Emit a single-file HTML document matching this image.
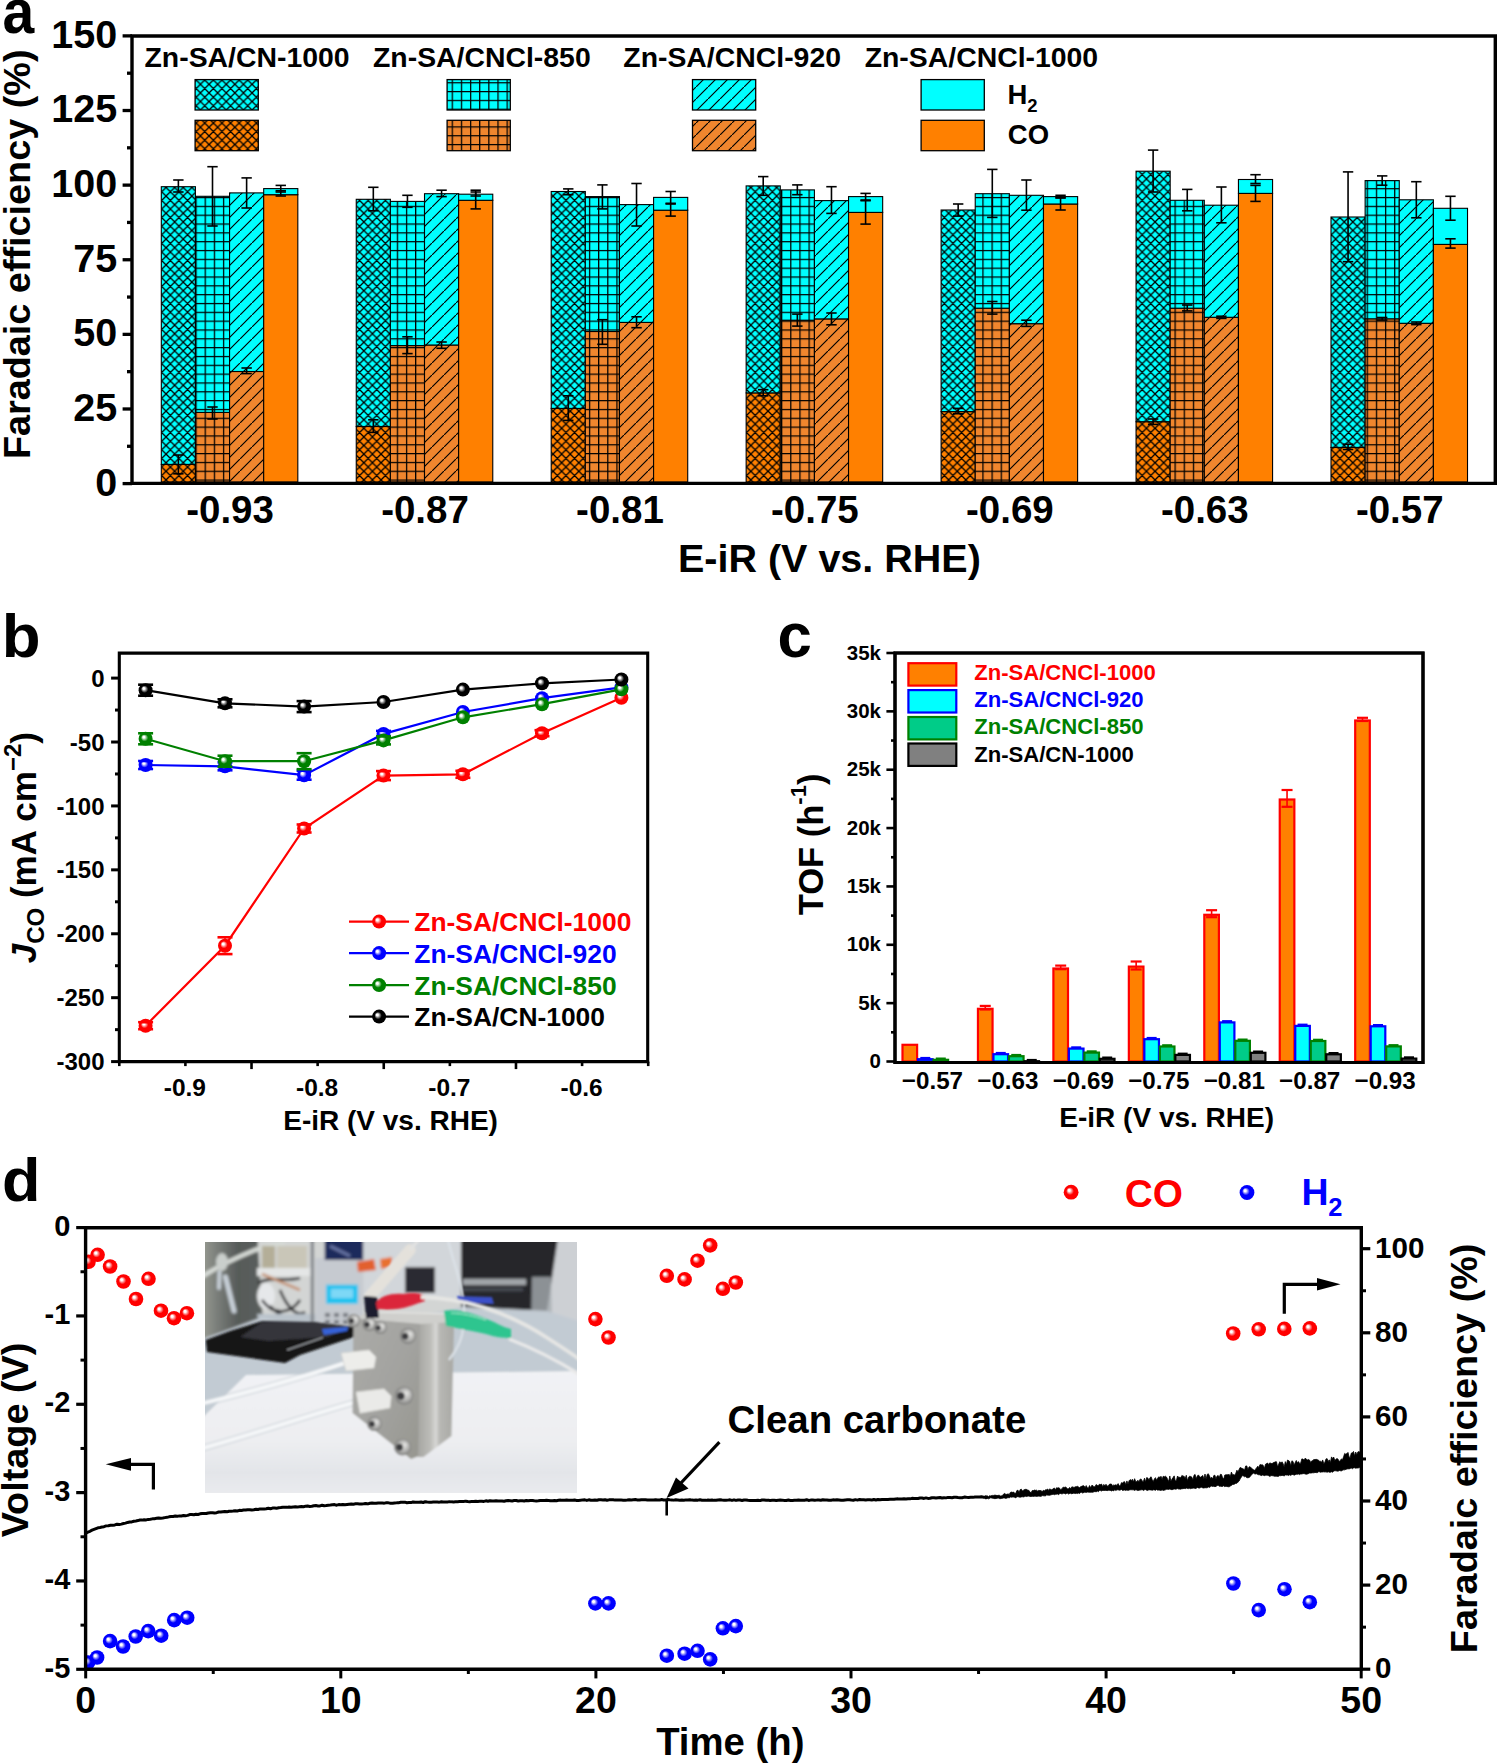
<!DOCTYPE html><html><head><meta charset="utf-8"><style>html,body{margin:0;padding:0;background:#fff;overflow:hidden;}svg{display:block;}</style></head><body>
<svg width="1498" height="1764" viewBox="0 0 1498 1764" font-family='"Liberation Sans", sans-serif'>
<rect x="0" y="0" width="1498" height="1764" fill="#fff"/>
<defs>
<pattern id="xc" patternUnits="userSpaceOnUse" x="2.65" y="6.9" width="8.6" height="8.6">
<rect width="8.6" height="8.6" fill="#00FFFF"/>
<path d="M0,0 L8.6,8.6 M8.6,0 L0,8.6 M-1,7.6 L1,9.6 M7.6,-1 L9.6,1" stroke="#000" stroke-width="1.3" fill="none"/>
</pattern>
<pattern id="xo" patternUnits="userSpaceOnUse" x="2.65" y="6.9" width="8.6" height="8.6">
<rect width="8.6" height="8.6" fill="#FF8000"/>
<path d="M0,0 L8.6,8.6 M8.6,0 L0,8.6 M-1,7.6 L1,9.6 M7.6,-1 L9.6,1" stroke="#000" stroke-width="1.3" fill="none"/>
</pattern>
<pattern id="gc" patternUnits="userSpaceOnUse" x="3.3" y="2.7" width="9.15" height="8.83">
<rect width="9.15" height="8.83" fill="#00FFFF"/>
<path d="M0.6,0 L0.6,8.83 M0,0.6 L9.15,0.6" stroke="#000" stroke-width="1.3" fill="none"/>
</pattern>
<pattern id="go" patternUnits="userSpaceOnUse" x="3.3" y="2.7" width="9.15" height="8.83">
<rect width="9.15" height="8.83" fill="#F0862E"/>
<path d="M0.6,0 L0.6,8.83 M0,0.6 L9.15,0.6" stroke="#000" stroke-width="1.3" fill="none"/>
</pattern>
<pattern id="dc" patternUnits="userSpaceOnUse" x="0" y="3" width="12" height="12">
<rect width="12" height="12" fill="#00FFFF"/>
<path d="M-1,13 L13,-1 M-2,1 L1,-2 M11,14 L14,11" stroke="#000" stroke-width="1.15" fill="none"/>
</pattern>
<pattern id="do" patternUnits="userSpaceOnUse" x="0" y="3" width="12" height="12">
<rect width="12" height="12" fill="#F0862E"/>
<path d="M-1,13 L13,-1 M-2,1 L1,-2 M11,14 L14,11" stroke="#000" stroke-width="1.15" fill="none"/>
</pattern>
<radialGradient id="sr" cx="0.5" cy="0.5" r="0.5" fx="0.35" fy="0.355">
<stop offset="0" stop-color="#FFFFFF"/><stop offset="0.14" stop-color="#FFFFFF"/><stop offset="0.52" stop-color="#FF0000"/><stop offset="1" stop-color="#FF0000"/>
</radialGradient>
<radialGradient id="sb" cx="0.5" cy="0.5" r="0.5" fx="0.35" fy="0.355">
<stop offset="0" stop-color="#FFFFFF"/><stop offset="0.14" stop-color="#FFFFFF"/><stop offset="0.52" stop-color="#0000FF"/><stop offset="1" stop-color="#0000FF"/>
</radialGradient>
<radialGradient id="sg" cx="0.5" cy="0.5" r="0.5" fx="0.35" fy="0.355">
<stop offset="0" stop-color="#FFFFFF"/><stop offset="0.14" stop-color="#FFFFFF"/><stop offset="0.52" stop-color="#008000"/><stop offset="1" stop-color="#008000"/>
</radialGradient>
<radialGradient id="sk" cx="0.5" cy="0.5" r="0.5" fx="0.35" fy="0.355">
<stop offset="0" stop-color="#FFFFFF"/><stop offset="0.14" stop-color="#FFFFFF"/><stop offset="0.52" stop-color="#000000"/><stop offset="1" stop-color="#000000"/>
</radialGradient>
<clipPath id="clipd"><rect x="87" y="1229" width="1273" height="439"/></clipPath>
<filter id="blur1" x="-5%" y="-5%" width="110%" height="110%"><feGaussianBlur stdDeviation="0.8"/></filter>
<filter id="blur2" x="-5%" y="-5%" width="110%" height="110%"><feGaussianBlur stdDeviation="1.6"/></filter>
<clipPath id="clipph"><rect x="205" y="1242" width="372" height="251"/></clipPath>
</defs>
<rect x="161.3" y="464.4" width="34.13" height="17.6" fill="url(#xo)" stroke="#000" stroke-width="1.1" />
<rect x="161.3" y="186.7" width="34.13" height="277.7" fill="url(#xc)" stroke="#000" stroke-width="1.1" />
<rect x="195.43" y="412.4" width="34.13" height="69.6" fill="url(#go)" stroke="#000" stroke-width="1.1" />
<rect x="195.43" y="196.3" width="34.13" height="216.1" fill="url(#gc)" stroke="#000" stroke-width="1.1" />
<rect x="229.56" y="371.5" width="34.13" height="110.5" fill="url(#do)" stroke="#000" stroke-width="1.1" />
<rect x="229.56" y="192.9" width="34.13" height="178.6" fill="url(#dc)" stroke="#000" stroke-width="1.1" />
<rect x="263.69" y="194.7" width="34.13" height="287.3" fill="#FF8000" stroke="#000" stroke-width="1.1" />
<rect x="263.69" y="188.6" width="34.13" height="6.1" fill="#00FFFF" stroke="#000" stroke-width="1.1" />
<rect x="356.25" y="426.5" width="34.13" height="55.5" fill="url(#xo)" stroke="#000" stroke-width="1.1" />
<rect x="356.25" y="199.3" width="34.13" height="227.2" fill="url(#xc)" stroke="#000" stroke-width="1.1" />
<rect x="390.38" y="345.6" width="34.13" height="136.4" fill="url(#go)" stroke="#000" stroke-width="1.1" />
<rect x="390.38" y="201.4" width="34.13" height="144.2" fill="url(#gc)" stroke="#000" stroke-width="1.1" />
<rect x="424.51" y="345" width="34.13" height="137" fill="url(#do)" stroke="#000" stroke-width="1.1" />
<rect x="424.51" y="193.7" width="34.13" height="151.3" fill="url(#dc)" stroke="#000" stroke-width="1.1" />
<rect x="458.64" y="200.3" width="34.13" height="281.7" fill="#FF8000" stroke="#000" stroke-width="1.1" />
<rect x="458.64" y="194.2" width="34.13" height="6.1" fill="#00FFFF" stroke="#000" stroke-width="1.1" />
<rect x="551.2" y="408.4" width="34.13" height="73.6" fill="url(#xo)" stroke="#000" stroke-width="1.1" />
<rect x="551.2" y="191.5" width="34.13" height="216.9" fill="url(#xc)" stroke="#000" stroke-width="1.1" />
<rect x="585.33" y="331.5" width="34.13" height="150.5" fill="url(#go)" stroke="#000" stroke-width="1.1" />
<rect x="585.33" y="196.6" width="34.13" height="134.9" fill="url(#gc)" stroke="#000" stroke-width="1.1" />
<rect x="619.46" y="322.4" width="34.13" height="159.6" fill="url(#do)" stroke="#000" stroke-width="1.1" />
<rect x="619.46" y="204.6" width="34.13" height="117.8" fill="url(#dc)" stroke="#000" stroke-width="1.1" />
<rect x="653.59" y="210.2" width="34.13" height="271.8" fill="#FF8000" stroke="#000" stroke-width="1.1" />
<rect x="653.59" y="197.4" width="34.13" height="12.8" fill="#00FFFF" stroke="#000" stroke-width="1.1" />
<rect x="746.15" y="392.9" width="34.13" height="89.1" fill="url(#xo)" stroke="#000" stroke-width="1.1" />
<rect x="746.15" y="185.9" width="34.13" height="207" fill="url(#xc)" stroke="#000" stroke-width="1.1" />
<rect x="780.28" y="320.2" width="34.13" height="161.8" fill="url(#go)" stroke="#000" stroke-width="1.1" />
<rect x="780.28" y="189.9" width="34.13" height="130.3" fill="url(#gc)" stroke="#000" stroke-width="1.1" />
<rect x="814.41" y="318.9" width="34.13" height="163.1" fill="url(#do)" stroke="#000" stroke-width="1.1" />
<rect x="814.41" y="200.6" width="34.13" height="118.3" fill="url(#dc)" stroke="#000" stroke-width="1.1" />
<rect x="848.54" y="212.4" width="34.13" height="269.6" fill="#FF8000" stroke="#000" stroke-width="1.1" />
<rect x="848.54" y="196.6" width="34.13" height="15.8" fill="#00FFFF" stroke="#000" stroke-width="1.1" />
<rect x="941.1" y="411.6" width="34.13" height="70.4" fill="url(#xo)" stroke="#000" stroke-width="1.1" />
<rect x="941.1" y="210" width="34.13" height="201.6" fill="url(#xc)" stroke="#000" stroke-width="1.1" />
<rect x="975.23" y="308.2" width="34.13" height="173.8" fill="url(#go)" stroke="#000" stroke-width="1.1" />
<rect x="975.23" y="193.7" width="34.13" height="114.5" fill="url(#gc)" stroke="#000" stroke-width="1.1" />
<rect x="1009.36" y="323.7" width="34.13" height="158.3" fill="url(#do)" stroke="#000" stroke-width="1.1" />
<rect x="1009.36" y="195.3" width="34.13" height="128.4" fill="url(#dc)" stroke="#000" stroke-width="1.1" />
<rect x="1043.49" y="204" width="34.13" height="278" fill="#FF8000" stroke="#000" stroke-width="1.1" />
<rect x="1043.49" y="196.6" width="34.13" height="7.4" fill="#00FFFF" stroke="#000" stroke-width="1.1" />
<rect x="1136.05" y="421.7" width="34.13" height="60.3" fill="url(#xo)" stroke="#000" stroke-width="1.1" />
<rect x="1136.05" y="171.2" width="34.13" height="250.5" fill="url(#xc)" stroke="#000" stroke-width="1.1" />
<rect x="1170.18" y="308.2" width="34.13" height="173.8" fill="url(#go)" stroke="#000" stroke-width="1.1" />
<rect x="1170.18" y="200.3" width="34.13" height="107.9" fill="url(#gc)" stroke="#000" stroke-width="1.1" />
<rect x="1204.31" y="317.3" width="34.13" height="164.7" fill="url(#do)" stroke="#000" stroke-width="1.1" />
<rect x="1204.31" y="205.2" width="34.13" height="112.1" fill="url(#dc)" stroke="#000" stroke-width="1.1" />
<rect x="1238.44" y="193.4" width="34.13" height="288.6" fill="#FF8000" stroke="#000" stroke-width="1.1" />
<rect x="1238.44" y="179.5" width="34.13" height="13.9" fill="#00FFFF" stroke="#000" stroke-width="1.1" />
<rect x="1331" y="447.4" width="34.13" height="34.6" fill="url(#xo)" stroke="#000" stroke-width="1.1" />
<rect x="1331" y="217" width="34.13" height="230.4" fill="url(#xc)" stroke="#000" stroke-width="1.1" />
<rect x="1365.13" y="318.8" width="34.13" height="163.2" fill="url(#go)" stroke="#000" stroke-width="1.1" />
<rect x="1365.13" y="180.6" width="34.13" height="138.2" fill="url(#gc)" stroke="#000" stroke-width="1.1" />
<rect x="1399.26" y="323.3" width="34.13" height="158.7" fill="url(#do)" stroke="#000" stroke-width="1.1" />
<rect x="1399.26" y="199.8" width="34.13" height="123.5" fill="url(#dc)" stroke="#000" stroke-width="1.1" />
<rect x="1433.39" y="244.4" width="34.13" height="237.6" fill="#FF8000" stroke="#000" stroke-width="1.1" />
<rect x="1433.39" y="208.3" width="34.13" height="36.1" fill="#00FFFF" stroke="#000" stroke-width="1.1" />
<line x1="178.37" y1="180" x2="178.37" y2="192" stroke="#000" stroke-width="1.6" />
<line x1="173.17" y1="180" x2="183.56" y2="180" stroke="#000" stroke-width="1.6" />
<line x1="173.17" y1="192" x2="183.56" y2="192" stroke="#000" stroke-width="1.6" />
<line x1="178.37" y1="455" x2="178.37" y2="473.8" stroke="#000" stroke-width="1.6" />
<line x1="173.17" y1="455" x2="183.56" y2="455" stroke="#000" stroke-width="1.6" />
<line x1="173.17" y1="473.8" x2="183.56" y2="473.8" stroke="#000" stroke-width="1.6" />
<line x1="212.5" y1="166.7" x2="212.5" y2="226" stroke="#000" stroke-width="1.6" />
<line x1="207.3" y1="166.7" x2="217.69" y2="166.7" stroke="#000" stroke-width="1.6" />
<line x1="207.3" y1="226" x2="217.69" y2="226" stroke="#000" stroke-width="1.6" />
<line x1="212.5" y1="407" x2="212.5" y2="419" stroke="#000" stroke-width="1.6" />
<line x1="207.3" y1="407" x2="217.69" y2="407" stroke="#000" stroke-width="1.6" />
<line x1="207.3" y1="419" x2="217.69" y2="419" stroke="#000" stroke-width="1.6" />
<line x1="246.62" y1="177.9" x2="246.62" y2="208" stroke="#000" stroke-width="1.6" />
<line x1="241.43" y1="177.9" x2="251.82" y2="177.9" stroke="#000" stroke-width="1.6" />
<line x1="241.43" y1="208" x2="251.82" y2="208" stroke="#000" stroke-width="1.6" />
<line x1="246.62" y1="368" x2="246.62" y2="373.6" stroke="#000" stroke-width="1.6" />
<line x1="241.43" y1="368" x2="251.82" y2="368" stroke="#000" stroke-width="1.6" />
<line x1="241.43" y1="373.6" x2="251.82" y2="373.6" stroke="#000" stroke-width="1.6" />
<line x1="280.76" y1="185.4" x2="280.76" y2="192" stroke="#000" stroke-width="1.6" />
<line x1="275.56" y1="185.4" x2="285.96" y2="185.4" stroke="#000" stroke-width="1.6" />
<line x1="275.56" y1="192" x2="285.96" y2="192" stroke="#000" stroke-width="1.6" />
<line x1="280.76" y1="190.7" x2="280.76" y2="196" stroke="#000" stroke-width="1.6" />
<line x1="275.56" y1="190.7" x2="285.96" y2="190.7" stroke="#000" stroke-width="1.6" />
<line x1="275.56" y1="196" x2="285.96" y2="196" stroke="#000" stroke-width="1.6" />
<line x1="373.31" y1="187.3" x2="373.31" y2="210.8" stroke="#000" stroke-width="1.6" />
<line x1="368.12" y1="187.3" x2="378.51" y2="187.3" stroke="#000" stroke-width="1.6" />
<line x1="368.12" y1="210.8" x2="378.51" y2="210.8" stroke="#000" stroke-width="1.6" />
<line x1="373.31" y1="419.8" x2="373.31" y2="432.4" stroke="#000" stroke-width="1.6" />
<line x1="368.12" y1="419.8" x2="378.51" y2="419.8" stroke="#000" stroke-width="1.6" />
<line x1="368.12" y1="432.4" x2="378.51" y2="432.4" stroke="#000" stroke-width="1.6" />
<line x1="407.44" y1="195.3" x2="407.44" y2="207.3" stroke="#000" stroke-width="1.6" />
<line x1="402.25" y1="195.3" x2="412.64" y2="195.3" stroke="#000" stroke-width="1.6" />
<line x1="402.25" y1="207.3" x2="412.64" y2="207.3" stroke="#000" stroke-width="1.6" />
<line x1="407.44" y1="336.8" x2="407.44" y2="353.6" stroke="#000" stroke-width="1.6" />
<line x1="402.25" y1="336.8" x2="412.64" y2="336.8" stroke="#000" stroke-width="1.6" />
<line x1="402.25" y1="353.6" x2="412.64" y2="353.6" stroke="#000" stroke-width="1.6" />
<line x1="441.57" y1="190.2" x2="441.57" y2="196.6" stroke="#000" stroke-width="1.6" />
<line x1="436.38" y1="190.2" x2="446.77" y2="190.2" stroke="#000" stroke-width="1.6" />
<line x1="436.38" y1="196.6" x2="446.77" y2="196.6" stroke="#000" stroke-width="1.6" />
<line x1="441.57" y1="342" x2="441.57" y2="348.3" stroke="#000" stroke-width="1.6" />
<line x1="436.38" y1="342" x2="446.77" y2="342" stroke="#000" stroke-width="1.6" />
<line x1="436.38" y1="348.3" x2="446.77" y2="348.3" stroke="#000" stroke-width="1.6" />
<line x1="475.7" y1="190.2" x2="475.7" y2="196" stroke="#000" stroke-width="1.6" />
<line x1="470.5" y1="190.2" x2="480.9" y2="190.2" stroke="#000" stroke-width="1.6" />
<line x1="470.5" y1="196" x2="480.9" y2="196" stroke="#000" stroke-width="1.6" />
<line x1="475.7" y1="192" x2="475.7" y2="208.9" stroke="#000" stroke-width="1.6" />
<line x1="470.5" y1="192" x2="480.9" y2="192" stroke="#000" stroke-width="1.6" />
<line x1="470.5" y1="208.9" x2="480.9" y2="208.9" stroke="#000" stroke-width="1.6" />
<line x1="568.27" y1="188.9" x2="568.27" y2="194.7" stroke="#000" stroke-width="1.6" />
<line x1="563.07" y1="188.9" x2="573.47" y2="188.9" stroke="#000" stroke-width="1.6" />
<line x1="563.07" y1="194.7" x2="573.47" y2="194.7" stroke="#000" stroke-width="1.6" />
<line x1="568.27" y1="395.8" x2="568.27" y2="420.4" stroke="#000" stroke-width="1.6" />
<line x1="563.07" y1="395.8" x2="573.47" y2="395.8" stroke="#000" stroke-width="1.6" />
<line x1="563.07" y1="420.4" x2="573.47" y2="420.4" stroke="#000" stroke-width="1.6" />
<line x1="602.4" y1="184.9" x2="602.4" y2="208.9" stroke="#000" stroke-width="1.6" />
<line x1="597.2" y1="184.9" x2="607.6" y2="184.9" stroke="#000" stroke-width="1.6" />
<line x1="597.2" y1="208.9" x2="607.6" y2="208.9" stroke="#000" stroke-width="1.6" />
<line x1="602.4" y1="319.7" x2="602.4" y2="344.3" stroke="#000" stroke-width="1.6" />
<line x1="597.2" y1="319.7" x2="607.6" y2="319.7" stroke="#000" stroke-width="1.6" />
<line x1="597.2" y1="344.3" x2="607.6" y2="344.3" stroke="#000" stroke-width="1.6" />
<line x1="636.53" y1="183.5" x2="636.53" y2="226" stroke="#000" stroke-width="1.6" />
<line x1="631.33" y1="183.5" x2="641.73" y2="183.5" stroke="#000" stroke-width="1.6" />
<line x1="631.33" y1="226" x2="641.73" y2="226" stroke="#000" stroke-width="1.6" />
<line x1="636.53" y1="316.8" x2="636.53" y2="327.7" stroke="#000" stroke-width="1.6" />
<line x1="631.33" y1="316.8" x2="641.73" y2="316.8" stroke="#000" stroke-width="1.6" />
<line x1="631.33" y1="327.7" x2="641.73" y2="327.7" stroke="#000" stroke-width="1.6" />
<line x1="670.66" y1="191.5" x2="670.66" y2="203.3" stroke="#000" stroke-width="1.6" />
<line x1="665.46" y1="191.5" x2="675.86" y2="191.5" stroke="#000" stroke-width="1.6" />
<line x1="665.46" y1="203.3" x2="675.86" y2="203.3" stroke="#000" stroke-width="1.6" />
<line x1="670.66" y1="204" x2="670.66" y2="216.1" stroke="#000" stroke-width="1.6" />
<line x1="665.46" y1="204" x2="675.86" y2="204" stroke="#000" stroke-width="1.6" />
<line x1="665.46" y1="216.1" x2="675.86" y2="216.1" stroke="#000" stroke-width="1.6" />
<line x1="763.21" y1="176.6" x2="763.21" y2="195.3" stroke="#000" stroke-width="1.6" />
<line x1="758.01" y1="176.6" x2="768.41" y2="176.6" stroke="#000" stroke-width="1.6" />
<line x1="758.01" y1="195.3" x2="768.41" y2="195.3" stroke="#000" stroke-width="1.6" />
<line x1="763.21" y1="389.7" x2="763.21" y2="395.8" stroke="#000" stroke-width="1.6" />
<line x1="758.01" y1="389.7" x2="768.41" y2="389.7" stroke="#000" stroke-width="1.6" />
<line x1="758.01" y1="395.8" x2="768.41" y2="395.8" stroke="#000" stroke-width="1.6" />
<line x1="797.34" y1="184.9" x2="797.34" y2="194.7" stroke="#000" stroke-width="1.6" />
<line x1="792.14" y1="184.9" x2="802.54" y2="184.9" stroke="#000" stroke-width="1.6" />
<line x1="792.14" y1="194.7" x2="802.54" y2="194.7" stroke="#000" stroke-width="1.6" />
<line x1="797.34" y1="314.1" x2="797.34" y2="326.1" stroke="#000" stroke-width="1.6" />
<line x1="792.14" y1="314.1" x2="802.54" y2="314.1" stroke="#000" stroke-width="1.6" />
<line x1="792.14" y1="326.1" x2="802.54" y2="326.1" stroke="#000" stroke-width="1.6" />
<line x1="831.47" y1="186.7" x2="831.47" y2="213.4" stroke="#000" stroke-width="1.6" />
<line x1="826.27" y1="186.7" x2="836.67" y2="186.7" stroke="#000" stroke-width="1.6" />
<line x1="826.27" y1="213.4" x2="836.67" y2="213.4" stroke="#000" stroke-width="1.6" />
<line x1="831.47" y1="313" x2="831.47" y2="324.8" stroke="#000" stroke-width="1.6" />
<line x1="826.27" y1="313" x2="836.67" y2="313" stroke="#000" stroke-width="1.6" />
<line x1="826.27" y1="324.8" x2="836.67" y2="324.8" stroke="#000" stroke-width="1.6" />
<line x1="865.6" y1="193.4" x2="865.6" y2="200" stroke="#000" stroke-width="1.6" />
<line x1="860.4" y1="193.4" x2="870.8" y2="193.4" stroke="#000" stroke-width="1.6" />
<line x1="860.4" y1="200" x2="870.8" y2="200" stroke="#000" stroke-width="1.6" />
<line x1="865.6" y1="200.7" x2="865.6" y2="224.1" stroke="#000" stroke-width="1.6" />
<line x1="860.4" y1="200.7" x2="870.8" y2="200.7" stroke="#000" stroke-width="1.6" />
<line x1="860.4" y1="224.1" x2="870.8" y2="224.1" stroke="#000" stroke-width="1.6" />
<line x1="958.16" y1="204" x2="958.16" y2="216.1" stroke="#000" stroke-width="1.6" />
<line x1="952.96" y1="204" x2="963.37" y2="204" stroke="#000" stroke-width="1.6" />
<line x1="952.96" y1="216.1" x2="963.37" y2="216.1" stroke="#000" stroke-width="1.6" />
<line x1="958.16" y1="408.4" x2="958.16" y2="413.7" stroke="#000" stroke-width="1.6" />
<line x1="952.96" y1="408.4" x2="963.37" y2="408.4" stroke="#000" stroke-width="1.6" />
<line x1="952.96" y1="413.7" x2="963.37" y2="413.7" stroke="#000" stroke-width="1.6" />
<line x1="992.29" y1="169.4" x2="992.29" y2="217.4" stroke="#000" stroke-width="1.6" />
<line x1="987.09" y1="169.4" x2="997.5" y2="169.4" stroke="#000" stroke-width="1.6" />
<line x1="987.09" y1="217.4" x2="997.5" y2="217.4" stroke="#000" stroke-width="1.6" />
<line x1="992.29" y1="301.5" x2="992.29" y2="314.1" stroke="#000" stroke-width="1.6" />
<line x1="987.09" y1="301.5" x2="997.5" y2="301.5" stroke="#000" stroke-width="1.6" />
<line x1="987.09" y1="314.1" x2="997.5" y2="314.1" stroke="#000" stroke-width="1.6" />
<line x1="1026.42" y1="180" x2="1026.42" y2="210.2" stroke="#000" stroke-width="1.6" />
<line x1="1021.22" y1="180" x2="1031.62" y2="180" stroke="#000" stroke-width="1.6" />
<line x1="1021.22" y1="210.2" x2="1031.62" y2="210.2" stroke="#000" stroke-width="1.6" />
<line x1="1026.42" y1="320.2" x2="1026.42" y2="326.4" stroke="#000" stroke-width="1.6" />
<line x1="1021.22" y1="320.2" x2="1031.62" y2="320.2" stroke="#000" stroke-width="1.6" />
<line x1="1021.22" y1="326.4" x2="1031.62" y2="326.4" stroke="#000" stroke-width="1.6" />
<line x1="1060.56" y1="195.3" x2="1060.56" y2="197.6" stroke="#000" stroke-width="1.6" />
<line x1="1055.36" y1="195.3" x2="1065.76" y2="195.3" stroke="#000" stroke-width="1.6" />
<line x1="1055.36" y1="197.6" x2="1065.76" y2="197.6" stroke="#000" stroke-width="1.6" />
<line x1="1060.56" y1="198" x2="1060.56" y2="210" stroke="#000" stroke-width="1.6" />
<line x1="1055.36" y1="198" x2="1065.76" y2="198" stroke="#000" stroke-width="1.6" />
<line x1="1055.36" y1="210" x2="1065.76" y2="210" stroke="#000" stroke-width="1.6" />
<line x1="1153.12" y1="150.1" x2="1153.12" y2="192" stroke="#000" stroke-width="1.6" />
<line x1="1147.91" y1="150.1" x2="1158.32" y2="150.1" stroke="#000" stroke-width="1.6" />
<line x1="1147.91" y1="192" x2="1158.32" y2="192" stroke="#000" stroke-width="1.6" />
<line x1="1153.12" y1="419" x2="1153.12" y2="424.4" stroke="#000" stroke-width="1.6" />
<line x1="1147.91" y1="419" x2="1158.32" y2="419" stroke="#000" stroke-width="1.6" />
<line x1="1147.91" y1="424.4" x2="1158.32" y2="424.4" stroke="#000" stroke-width="1.6" />
<line x1="1187.25" y1="189.4" x2="1187.25" y2="210.8" stroke="#000" stroke-width="1.6" />
<line x1="1182.05" y1="189.4" x2="1192.45" y2="189.4" stroke="#000" stroke-width="1.6" />
<line x1="1182.05" y1="210.8" x2="1192.45" y2="210.8" stroke="#000" stroke-width="1.6" />
<line x1="1187.25" y1="305" x2="1187.25" y2="310.9" stroke="#000" stroke-width="1.6" />
<line x1="1182.05" y1="305" x2="1192.45" y2="305" stroke="#000" stroke-width="1.6" />
<line x1="1182.05" y1="310.9" x2="1192.45" y2="310.9" stroke="#000" stroke-width="1.6" />
<line x1="1221.38" y1="187" x2="1221.38" y2="222.8" stroke="#000" stroke-width="1.6" />
<line x1="1216.17" y1="187" x2="1226.58" y2="187" stroke="#000" stroke-width="1.6" />
<line x1="1216.17" y1="222.8" x2="1226.58" y2="222.8" stroke="#000" stroke-width="1.6" />
<line x1="1221.38" y1="316.2" x2="1221.38" y2="318.4" stroke="#000" stroke-width="1.6" />
<line x1="1216.17" y1="316.2" x2="1226.58" y2="316.2" stroke="#000" stroke-width="1.6" />
<line x1="1216.17" y1="318.4" x2="1226.58" y2="318.4" stroke="#000" stroke-width="1.6" />
<line x1="1255.51" y1="174.7" x2="1255.51" y2="183.5" stroke="#000" stroke-width="1.6" />
<line x1="1250.31" y1="174.7" x2="1260.71" y2="174.7" stroke="#000" stroke-width="1.6" />
<line x1="1250.31" y1="183.5" x2="1260.71" y2="183.5" stroke="#000" stroke-width="1.6" />
<line x1="1255.51" y1="185.4" x2="1255.51" y2="201.4" stroke="#000" stroke-width="1.6" />
<line x1="1250.31" y1="185.4" x2="1260.71" y2="185.4" stroke="#000" stroke-width="1.6" />
<line x1="1250.31" y1="201.4" x2="1260.71" y2="201.4" stroke="#000" stroke-width="1.6" />
<line x1="1348.06" y1="171.9" x2="1348.06" y2="261.7" stroke="#000" stroke-width="1.6" />
<line x1="1342.86" y1="171.9" x2="1353.26" y2="171.9" stroke="#000" stroke-width="1.6" />
<line x1="1342.86" y1="261.7" x2="1353.26" y2="261.7" stroke="#000" stroke-width="1.6" />
<line x1="1348.06" y1="444.2" x2="1348.06" y2="449.5" stroke="#000" stroke-width="1.6" />
<line x1="1342.86" y1="444.2" x2="1353.26" y2="444.2" stroke="#000" stroke-width="1.6" />
<line x1="1342.86" y1="449.5" x2="1353.26" y2="449.5" stroke="#000" stroke-width="1.6" />
<line x1="1382.19" y1="175.9" x2="1382.19" y2="185.2" stroke="#000" stroke-width="1.6" />
<line x1="1376.99" y1="175.9" x2="1387.39" y2="175.9" stroke="#000" stroke-width="1.6" />
<line x1="1376.99" y1="185.2" x2="1387.39" y2="185.2" stroke="#000" stroke-width="1.6" />
<line x1="1382.19" y1="317.5" x2="1382.19" y2="320.1" stroke="#000" stroke-width="1.6" />
<line x1="1376.99" y1="317.5" x2="1387.39" y2="317.5" stroke="#000" stroke-width="1.6" />
<line x1="1376.99" y1="320.1" x2="1387.39" y2="320.1" stroke="#000" stroke-width="1.6" />
<line x1="1416.32" y1="181.7" x2="1416.32" y2="217.8" stroke="#000" stroke-width="1.6" />
<line x1="1411.12" y1="181.7" x2="1421.52" y2="181.7" stroke="#000" stroke-width="1.6" />
<line x1="1411.12" y1="217.8" x2="1421.52" y2="217.8" stroke="#000" stroke-width="1.6" />
<line x1="1416.32" y1="322" x2="1416.32" y2="324.6" stroke="#000" stroke-width="1.6" />
<line x1="1411.12" y1="322" x2="1421.52" y2="322" stroke="#000" stroke-width="1.6" />
<line x1="1411.12" y1="324.6" x2="1421.52" y2="324.6" stroke="#000" stroke-width="1.6" />
<line x1="1450.45" y1="196.3" x2="1450.45" y2="220.2" stroke="#000" stroke-width="1.6" />
<line x1="1445.25" y1="196.3" x2="1455.65" y2="196.3" stroke="#000" stroke-width="1.6" />
<line x1="1445.25" y1="220.2" x2="1455.65" y2="220.2" stroke="#000" stroke-width="1.6" />
<line x1="1450.45" y1="238.8" x2="1450.45" y2="248.1" stroke="#000" stroke-width="1.6" />
<line x1="1445.25" y1="238.8" x2="1455.65" y2="238.8" stroke="#000" stroke-width="1.6" />
<line x1="1445.25" y1="248.1" x2="1455.65" y2="248.1" stroke="#000" stroke-width="1.6" />
<path d="M132,36 L1495.3,36 L1495.3,483.4 L132,483.4 Z" fill="none" stroke="#000" stroke-width="3.4"/>
<line x1="122.6" y1="483.6" x2="132" y2="483.6" stroke="#000" stroke-width="3.3" />
<text x="117.2" y="495.5" font-size="39.5" text-anchor="end" fill="#000" font-weight="bold" >0</text>
<line x1="127" y1="446.29" x2="132" y2="446.29" stroke="#000" stroke-width="3.3" />
<line x1="122.6" y1="408.98" x2="132" y2="408.98" stroke="#000" stroke-width="3.3" />
<text x="117.2" y="420.88" font-size="39.5" text-anchor="end" fill="#000" font-weight="bold" >25</text>
<line x1="127" y1="371.67" x2="132" y2="371.67" stroke="#000" stroke-width="3.3" />
<line x1="122.6" y1="334.37" x2="132" y2="334.37" stroke="#000" stroke-width="3.3" />
<text x="117.2" y="346.26" font-size="39.5" text-anchor="end" fill="#000" font-weight="bold" >50</text>
<line x1="127" y1="297.06" x2="132" y2="297.06" stroke="#000" stroke-width="3.3" />
<line x1="122.6" y1="259.75" x2="132" y2="259.75" stroke="#000" stroke-width="3.3" />
<text x="117.2" y="271.65" font-size="39.5" text-anchor="end" fill="#000" font-weight="bold" >75</text>
<line x1="127" y1="222.44" x2="132" y2="222.44" stroke="#000" stroke-width="3.3" />
<line x1="122.6" y1="185.13" x2="132" y2="185.13" stroke="#000" stroke-width="3.3" />
<text x="117.2" y="197.03" font-size="39.5" text-anchor="end" fill="#000" font-weight="bold" >100</text>
<line x1="127" y1="147.82" x2="132" y2="147.82" stroke="#000" stroke-width="3.3" />
<line x1="122.6" y1="110.51" x2="132" y2="110.51" stroke="#000" stroke-width="3.3" />
<text x="117.2" y="122.41" font-size="39.5" text-anchor="end" fill="#000" font-weight="bold" >125</text>
<line x1="127" y1="73.2" x2="132" y2="73.2" stroke="#000" stroke-width="3.3" />
<line x1="122.6" y1="35.89" x2="132" y2="35.89" stroke="#000" stroke-width="3.3" />
<text x="117.2" y="47.79" font-size="39.5" text-anchor="end" fill="#000" font-weight="bold" >150</text>
<text x="230.06" y="523" font-size="38.5" text-anchor="middle" fill="#000" font-weight="bold" >-0.93</text>
<text x="425.01" y="523" font-size="38.5" text-anchor="middle" fill="#000" font-weight="bold" >-0.87</text>
<text x="619.96" y="523" font-size="38.5" text-anchor="middle" fill="#000" font-weight="bold" >-0.81</text>
<text x="814.91" y="523" font-size="38.5" text-anchor="middle" fill="#000" font-weight="bold" >-0.75</text>
<text x="1009.86" y="523" font-size="38.5" text-anchor="middle" fill="#000" font-weight="bold" >-0.69</text>
<text x="1204.81" y="523" font-size="38.5" text-anchor="middle" fill="#000" font-weight="bold" >-0.63</text>
<text x="1399.76" y="523" font-size="38.5" text-anchor="middle" fill="#000" font-weight="bold" >-0.57</text>
<text x="829.4" y="572" font-size="39.5" text-anchor="middle" fill="#000" font-weight="bold" >E-iR (V vs. RHE)</text>
<text transform="translate(29.9,254.3) rotate(-90)" font-size="37.8" font-weight="bold" text-anchor="middle">Faradaic efficiency (%)</text>
<text transform="translate(2.6,33.3) scale(0.95,1.06)" font-size="60" font-weight="bold">a</text>
<text x="144.5" y="66.9" font-size="28.4" text-anchor="start" fill="#000" font-weight="bold" >Zn-SA/CN-1000</text>
<rect x="195.1" y="79.6" width="63.2" height="30.4" fill="url(#xc)" stroke="#000" stroke-width="1.3" />
<rect x="195.1" y="120.3" width="63.2" height="30.4" fill="url(#xo)" stroke="#000" stroke-width="1.3" />
<text x="373" y="66.9" font-size="28.4" text-anchor="start" fill="#000" font-weight="bold" >Zn-SA/CNCl-850</text>
<rect x="447.1" y="79.6" width="63.2" height="30.4" fill="url(#gc)" stroke="#000" stroke-width="1.3" />
<rect x="447.1" y="120.3" width="63.2" height="30.4" fill="url(#go)" stroke="#000" stroke-width="1.3" />
<text x="623.3" y="66.9" font-size="28.4" text-anchor="start" fill="#000" font-weight="bold" >Zn-SA/CNCl-920</text>
<rect x="692.5" y="79.6" width="63.2" height="30.4" fill="url(#dc)" stroke="#000" stroke-width="1.3" />
<rect x="692.5" y="120.3" width="63.2" height="30.4" fill="url(#do)" stroke="#000" stroke-width="1.3" />
<text x="864.7" y="66.9" font-size="28.4" text-anchor="start" fill="#000" font-weight="bold" >Zn-SA/CNCl-1000</text>
<rect x="921.1" y="79.6" width="63.2" height="30.4" fill="#00FFFF" stroke="#000" stroke-width="1.3" />
<rect x="921.1" y="120.3" width="63.2" height="30.4" fill="#FF8000" stroke="#000" stroke-width="1.3" />
<text x="1007.5" y="104.1" font-size="27.5" text-anchor="start" fill="#000" font-weight="bold" >H</text>
<text x="1027.3" y="111.6" font-size="18.5" text-anchor="start" fill="#000" font-weight="bold" >2</text>
<text x="1007.8" y="144.2" font-size="27.5" text-anchor="start" fill="#000" font-weight="bold" >CO</text>
<path d="M119.3,653.1 L647.7,653.1 L647.7,1061.6 L119.3,1061.6 Z" fill="none" stroke="#000" stroke-width="3.1"/>
<line x1="111.1" y1="678.1" x2="119.3" y2="678.1" stroke="#000" stroke-width="3" />
<text x="104.5" y="686.7" font-size="24" text-anchor="end" fill="#000" font-weight="bold" >0</text>
<line x1="115" y1="710.06" x2="119.3" y2="710.06" stroke="#000" stroke-width="3" />
<line x1="111.1" y1="742.02" x2="119.3" y2="742.02" stroke="#000" stroke-width="3" />
<text x="104.5" y="750.62" font-size="24" text-anchor="end" fill="#000" font-weight="bold" >-50</text>
<line x1="115" y1="773.98" x2="119.3" y2="773.98" stroke="#000" stroke-width="3" />
<line x1="111.1" y1="805.93" x2="119.3" y2="805.93" stroke="#000" stroke-width="3" />
<text x="104.5" y="814.53" font-size="24" text-anchor="end" fill="#000" font-weight="bold" >-100</text>
<line x1="115" y1="837.89" x2="119.3" y2="837.89" stroke="#000" stroke-width="3" />
<line x1="111.1" y1="869.85" x2="119.3" y2="869.85" stroke="#000" stroke-width="3" />
<text x="104.5" y="878.45" font-size="24" text-anchor="end" fill="#000" font-weight="bold" >-150</text>
<line x1="115" y1="901.81" x2="119.3" y2="901.81" stroke="#000" stroke-width="3" />
<line x1="111.1" y1="933.77" x2="119.3" y2="933.77" stroke="#000" stroke-width="3" />
<text x="104.5" y="942.37" font-size="24" text-anchor="end" fill="#000" font-weight="bold" >-200</text>
<line x1="115" y1="965.72" x2="119.3" y2="965.72" stroke="#000" stroke-width="3" />
<line x1="111.1" y1="997.68" x2="119.3" y2="997.68" stroke="#000" stroke-width="3" />
<text x="104.5" y="1006.28" font-size="24" text-anchor="end" fill="#000" font-weight="bold" >-250</text>
<line x1="115" y1="1029.64" x2="119.3" y2="1029.64" stroke="#000" stroke-width="3" />
<line x1="111.1" y1="1061.6" x2="119.3" y2="1061.6" stroke="#000" stroke-width="3" />
<text x="104.5" y="1070.2" font-size="24" text-anchor="end" fill="#000" font-weight="bold" >-300</text>
<line x1="119.29" y1="1061.6" x2="119.29" y2="1066.1" stroke="#000" stroke-width="2.6" />
<line x1="185.4" y1="1061.6" x2="185.4" y2="1066.1" stroke="#000" stroke-width="2.6" />
<line x1="251.52" y1="1061.6" x2="251.52" y2="1069.1" stroke="#000" stroke-width="2.6" />
<line x1="317.63" y1="1061.6" x2="317.63" y2="1066.1" stroke="#000" stroke-width="2.6" />
<line x1="383.75" y1="1061.6" x2="383.75" y2="1069.1" stroke="#000" stroke-width="2.6" />
<line x1="449.86" y1="1061.6" x2="449.86" y2="1066.1" stroke="#000" stroke-width="2.6" />
<line x1="515.98" y1="1061.6" x2="515.98" y2="1069.1" stroke="#000" stroke-width="2.6" />
<line x1="582.09" y1="1061.6" x2="582.09" y2="1066.1" stroke="#000" stroke-width="2.6" />
<line x1="648.21" y1="1061.6" x2="648.21" y2="1066.1" stroke="#000" stroke-width="2.6" />
<text x="184.9" y="1096.3" font-size="24.5" text-anchor="middle" fill="#000" font-weight="bold" >-0.9</text>
<text x="317.13" y="1096.3" font-size="24.5" text-anchor="middle" fill="#000" font-weight="bold" >-0.8</text>
<text x="449.36" y="1096.3" font-size="24.5" text-anchor="middle" fill="#000" font-weight="bold" >-0.7</text>
<text x="581.59" y="1096.3" font-size="24.5" text-anchor="middle" fill="#000" font-weight="bold" >-0.6</text>
<text x="390.6" y="1129.7" font-size="28" text-anchor="middle" fill="#000" font-weight="bold" >E-iR (V vs. RHE)</text>
<g transform="translate(36.1,963.3) rotate(-90)">
<text x="0" y="0" font-size="35" font-weight="bold"><tspan font-style="italic">J</tspan><tspan font-size="24" dy="8">CO</tspan><tspan dy="-8"> (mA cm</tspan><tspan font-size="24" dy="-15.5">&#8722;2</tspan><tspan dy="15.5">)</tspan></text>
</g>
<text transform="translate(1.8,657.4) scale(1.06,1.01)" font-size="60" font-weight="bold">b</text>
<polyline points="145.6,1025.7 225,945.7 304.1,828.5 383.5,775.6 462.9,774.3 542,733.2 621.4,697.7" fill="none" stroke="#FF0000" stroke-width="2.2"/>
<circle cx="145.6" cy="1025.7" r="7" fill="url(#sr)"/>
<line x1="138.1" y1="1022.2" x2="153.1" y2="1022.2" stroke="#FF0000" stroke-width="2.6" />
<line x1="138.1" y1="1029.2" x2="153.1" y2="1029.2" stroke="#FF0000" stroke-width="2.6" />
<circle cx="225" cy="945.7" r="7" fill="url(#sr)"/>
<line x1="225" y1="937.3" x2="225" y2="938.7" stroke="#FF0000" stroke-width="1.8" />
<line x1="225" y1="952.7" x2="225" y2="954.1" stroke="#FF0000" stroke-width="1.8" />
<line x1="217.5" y1="937.3" x2="232.5" y2="937.3" stroke="#FF0000" stroke-width="2.6" />
<line x1="217.5" y1="954.1" x2="232.5" y2="954.1" stroke="#FF0000" stroke-width="2.6" />
<circle cx="304.1" cy="828.5" r="7" fill="url(#sr)"/>
<line x1="296.6" y1="824.5" x2="311.6" y2="824.5" stroke="#FF0000" stroke-width="2.6" />
<line x1="296.6" y1="832.5" x2="311.6" y2="832.5" stroke="#FF0000" stroke-width="2.6" />
<circle cx="383.5" cy="775.6" r="7" fill="url(#sr)"/>
<line x1="376" y1="771.1" x2="391" y2="771.1" stroke="#FF0000" stroke-width="2.6" />
<line x1="376" y1="780.1" x2="391" y2="780.1" stroke="#FF0000" stroke-width="2.6" />
<circle cx="462.9" cy="774.3" r="7" fill="url(#sr)"/>
<line x1="455.4" y1="770.8" x2="470.4" y2="770.8" stroke="#FF0000" stroke-width="2.6" />
<line x1="455.4" y1="777.8" x2="470.4" y2="777.8" stroke="#FF0000" stroke-width="2.6" />
<circle cx="542" cy="733.2" r="7" fill="url(#sr)"/>
<line x1="534.5" y1="730.2" x2="549.5" y2="730.2" stroke="#FF0000" stroke-width="2.6" />
<line x1="534.5" y1="736.2" x2="549.5" y2="736.2" stroke="#FF0000" stroke-width="2.6" />
<circle cx="621.4" cy="697.7" r="7" fill="url(#sr)"/>
<polyline points="145.6,765 225,766.3 304.1,775.2 383.5,733.9 462.9,712 542,698.2 621.4,687.4" fill="none" stroke="#0000FF" stroke-width="2.2"/>
<circle cx="145.6" cy="765" r="7" fill="url(#sb)"/>
<line x1="138.1" y1="761" x2="153.1" y2="761" stroke="#0000FF" stroke-width="2.6" />
<line x1="138.1" y1="769" x2="153.1" y2="769" stroke="#0000FF" stroke-width="2.6" />
<circle cx="225" cy="766.3" r="7" fill="url(#sb)"/>
<line x1="217.5" y1="762.3" x2="232.5" y2="762.3" stroke="#0000FF" stroke-width="2.6" />
<line x1="217.5" y1="770.3" x2="232.5" y2="770.3" stroke="#0000FF" stroke-width="2.6" />
<circle cx="304.1" cy="775.2" r="7" fill="url(#sb)"/>
<line x1="296.6" y1="770.7" x2="311.6" y2="770.7" stroke="#0000FF" stroke-width="2.6" />
<line x1="296.6" y1="779.7" x2="311.6" y2="779.7" stroke="#0000FF" stroke-width="2.6" />
<circle cx="383.5" cy="733.9" r="7" fill="url(#sb)"/>
<line x1="376" y1="730.9" x2="391" y2="730.9" stroke="#0000FF" stroke-width="2.6" />
<line x1="376" y1="736.9" x2="391" y2="736.9" stroke="#0000FF" stroke-width="2.6" />
<circle cx="462.9" cy="712" r="7" fill="url(#sb)"/>
<circle cx="542" cy="698.2" r="7" fill="url(#sb)"/>
<circle cx="621.4" cy="687.4" r="7" fill="url(#sb)"/>
<polyline points="145.6,738.8 225,761.2 304.1,761.2 383.5,740.4 462.9,717.3 542,704.2 621.4,689.3" fill="none" stroke="#008000" stroke-width="2.2"/>
<circle cx="145.6" cy="738.8" r="7" fill="url(#sg)"/>
<line x1="138.1" y1="733.3" x2="153.1" y2="733.3" stroke="#008000" stroke-width="2.6" />
<line x1="138.1" y1="744.3" x2="153.1" y2="744.3" stroke="#008000" stroke-width="2.6" />
<circle cx="225" cy="761.2" r="7" fill="url(#sg)"/>
<line x1="217.5" y1="755.7" x2="232.5" y2="755.7" stroke="#008000" stroke-width="2.6" />
<line x1="217.5" y1="766.7" x2="232.5" y2="766.7" stroke="#008000" stroke-width="2.6" />
<circle cx="304.1" cy="761.2" r="7" fill="url(#sg)"/>
<line x1="304.1" y1="753.2" x2="304.1" y2="754.2" stroke="#008000" stroke-width="1.8" />
<line x1="304.1" y1="768.2" x2="304.1" y2="769.2" stroke="#008000" stroke-width="1.8" />
<line x1="296.6" y1="753.2" x2="311.6" y2="753.2" stroke="#008000" stroke-width="2.6" />
<line x1="296.6" y1="769.2" x2="311.6" y2="769.2" stroke="#008000" stroke-width="2.6" />
<circle cx="383.5" cy="740.4" r="7" fill="url(#sg)"/>
<line x1="376" y1="736.4" x2="391" y2="736.4" stroke="#008000" stroke-width="2.6" />
<line x1="376" y1="744.4" x2="391" y2="744.4" stroke="#008000" stroke-width="2.6" />
<circle cx="462.9" cy="717.3" r="7" fill="url(#sg)"/>
<circle cx="542" cy="704.2" r="7" fill="url(#sg)"/>
<circle cx="621.4" cy="689.3" r="7" fill="url(#sg)"/>
<polyline points="145.6,690.2 225,703.3 304.1,706.6 383.5,702 462.9,689.6 542,683.3 621.4,679.5" fill="none" stroke="#000000" stroke-width="2.2"/>
<circle cx="145.6" cy="690.2" r="7" fill="url(#sk)"/>
<line x1="138.1" y1="684.7" x2="153.1" y2="684.7" stroke="#000000" stroke-width="2.6" />
<line x1="138.1" y1="695.7" x2="153.1" y2="695.7" stroke="#000000" stroke-width="2.6" />
<circle cx="225" cy="703.3" r="7" fill="url(#sk)"/>
<line x1="217.5" y1="699.3" x2="232.5" y2="699.3" stroke="#000000" stroke-width="2.6" />
<line x1="217.5" y1="707.3" x2="232.5" y2="707.3" stroke="#000000" stroke-width="2.6" />
<circle cx="304.1" cy="706.6" r="7" fill="url(#sk)"/>
<line x1="296.6" y1="701.1" x2="311.6" y2="701.1" stroke="#000000" stroke-width="2.6" />
<line x1="296.6" y1="712.1" x2="311.6" y2="712.1" stroke="#000000" stroke-width="2.6" />
<circle cx="383.5" cy="702" r="7" fill="url(#sk)"/>
<circle cx="462.9" cy="689.6" r="7" fill="url(#sk)"/>
<circle cx="542" cy="683.3" r="7" fill="url(#sk)"/>
<circle cx="621.4" cy="679.5" r="7" fill="url(#sk)"/>
<line x1="349" y1="921.6" x2="409" y2="921.6" stroke="#FF0000" stroke-width="2.2" />
<circle cx="379.1" cy="921.6" r="7" fill="url(#sr)"/>
<text x="414.3" y="931" font-size="26.4" text-anchor="start" fill="#FF0000" font-weight="bold" >Zn-SA/CNCl-1000</text>
<line x1="349" y1="953.1" x2="409" y2="953.1" stroke="#0000FF" stroke-width="2.2" />
<circle cx="379.1" cy="953.1" r="7" fill="url(#sb)"/>
<text x="414.3" y="962.5" font-size="26.4" text-anchor="start" fill="#0000FF" font-weight="bold" >Zn-SA/CNCl-920</text>
<line x1="349" y1="985.1" x2="409" y2="985.1" stroke="#008000" stroke-width="2.2" />
<circle cx="379.1" cy="985.1" r="7" fill="url(#sg)"/>
<text x="414.3" y="994.5" font-size="26.4" text-anchor="start" fill="#008000" font-weight="bold" >Zn-SA/CNCl-850</text>
<line x1="349" y1="1016.6" x2="409" y2="1016.6" stroke="#000000" stroke-width="2.2" />
<circle cx="379.1" cy="1016.6" r="7" fill="url(#sk)"/>
<text x="414.3" y="1026" font-size="26.4" text-anchor="start" fill="#000000" font-weight="bold" >Zn-SA/CN-1000</text>
<path d="M895,653 L1423,653 L1423,1062.5 L895,1062.5 Z" fill="none" stroke="#000" stroke-width="3.1"/>
<line x1="886.4" y1="1061.5" x2="895" y2="1061.5" stroke="#000" stroke-width="2.6" />
<text x="881" y="1068.1" font-size="20.5" text-anchor="end" fill="#000" font-weight="bold" >0</text>
<line x1="891" y1="1032.32" x2="895" y2="1032.32" stroke="#000" stroke-width="2.6" />
<line x1="886.4" y1="1003.14" x2="895" y2="1003.14" stroke="#000" stroke-width="2.6" />
<text x="881" y="1009.74" font-size="20.5" text-anchor="end" fill="#000" font-weight="bold" >5k</text>
<line x1="891" y1="973.96" x2="895" y2="973.96" stroke="#000" stroke-width="2.6" />
<line x1="886.4" y1="944.79" x2="895" y2="944.79" stroke="#000" stroke-width="2.6" />
<text x="881" y="951.39" font-size="20.5" text-anchor="end" fill="#000" font-weight="bold" >10k</text>
<line x1="891" y1="915.61" x2="895" y2="915.61" stroke="#000" stroke-width="2.6" />
<line x1="886.4" y1="886.43" x2="895" y2="886.43" stroke="#000" stroke-width="2.6" />
<text x="881" y="893.03" font-size="20.5" text-anchor="end" fill="#000" font-weight="bold" >15k</text>
<line x1="891" y1="857.25" x2="895" y2="857.25" stroke="#000" stroke-width="2.6" />
<line x1="886.4" y1="828.07" x2="895" y2="828.07" stroke="#000" stroke-width="2.6" />
<text x="881" y="834.67" font-size="20.5" text-anchor="end" fill="#000" font-weight="bold" >20k</text>
<line x1="891" y1="798.89" x2="895" y2="798.89" stroke="#000" stroke-width="2.6" />
<line x1="886.4" y1="769.71" x2="895" y2="769.71" stroke="#000" stroke-width="2.6" />
<text x="881" y="776.31" font-size="20.5" text-anchor="end" fill="#000" font-weight="bold" >25k</text>
<line x1="891" y1="740.54" x2="895" y2="740.54" stroke="#000" stroke-width="2.6" />
<line x1="886.4" y1="711.36" x2="895" y2="711.36" stroke="#000" stroke-width="2.6" />
<text x="881" y="717.96" font-size="20.5" text-anchor="end" fill="#000" font-weight="bold" >30k</text>
<line x1="891" y1="682.18" x2="895" y2="682.18" stroke="#000" stroke-width="2.6" />
<line x1="886.4" y1="653" x2="895" y2="653" stroke="#000" stroke-width="2.6" />
<text x="881" y="659.6" font-size="20.5" text-anchor="end" fill="#000" font-weight="bold" >35k</text>
<rect x="902.5" y="1044.8" width="14.6" height="16.7" fill="#FF8000" stroke="#FF0000" stroke-width="2.2" />
<rect x="918" y="1059.2" width="14.6" height="2.3" fill="#00FFFF" stroke="#0000FF" stroke-width="2.2" />
<rect x="933.5" y="1059.8" width="14.6" height="1.7" fill="#00CC88" stroke="#008000" stroke-width="2.2" />
<line x1="920.3" y1="1058.1" x2="930.3" y2="1058.1" stroke="#0000FF" stroke-width="2.4" />
<line x1="935.8" y1="1058.7" x2="945.8" y2="1058.7" stroke="#008000" stroke-width="2.4" />
<rect x="977.95" y="1008.8" width="14.6" height="52.7" fill="#FF8000" stroke="#FF0000" stroke-width="2.2" />
<rect x="993.45" y="1054.2" width="14.6" height="7.3" fill="#00FFFF" stroke="#0000FF" stroke-width="2.2" />
<rect x="1008.95" y="1056.2" width="14.6" height="5.3" fill="#00CC88" stroke="#008000" stroke-width="2.2" />
<rect x="1024.45" y="1061.2" width="14.6" height="0.3" fill="#808080" stroke="#000000" stroke-width="2.2" />
<line x1="985.25" y1="1005.9" x2="985.25" y2="1009.5" stroke="#FF0000" stroke-width="1.6" />
<line x1="979.75" y1="1005.9" x2="990.75" y2="1005.9" stroke="#FF0000" stroke-width="2.2" />
<line x1="979.75" y1="1009.5" x2="990.75" y2="1009.5" stroke="#FF0000" stroke-width="2.2" />
<line x1="995.75" y1="1053.1" x2="1005.75" y2="1053.1" stroke="#0000FF" stroke-width="2.4" />
<line x1="1011.25" y1="1055.1" x2="1021.25" y2="1055.1" stroke="#008000" stroke-width="2.4" />
<line x1="1026.75" y1="1060.1" x2="1036.75" y2="1060.1" stroke="#000000" stroke-width="2.4" />
<rect x="1053.4" y="968.5" width="14.6" height="93" fill="#FF8000" stroke="#FF0000" stroke-width="2.2" />
<rect x="1068.9" y="1048.6" width="14.6" height="12.9" fill="#00FFFF" stroke="#0000FF" stroke-width="2.2" />
<rect x="1084.4" y="1052.6" width="14.6" height="8.9" fill="#00CC88" stroke="#008000" stroke-width="2.2" />
<rect x="1099.9" y="1058.8" width="14.6" height="2.7" fill="#808080" stroke="#000000" stroke-width="2.2" />
<line x1="1060.7" y1="965.6" x2="1060.7" y2="969.2" stroke="#FF0000" stroke-width="1.6" />
<line x1="1055.2" y1="965.6" x2="1066.2" y2="965.6" stroke="#FF0000" stroke-width="2.2" />
<line x1="1055.2" y1="969.2" x2="1066.2" y2="969.2" stroke="#FF0000" stroke-width="2.2" />
<line x1="1071.2" y1="1047.5" x2="1081.2" y2="1047.5" stroke="#0000FF" stroke-width="2.4" />
<line x1="1086.7" y1="1051.5" x2="1096.7" y2="1051.5" stroke="#008000" stroke-width="2.4" />
<line x1="1102.2" y1="1057.7" x2="1112.2" y2="1057.7" stroke="#000000" stroke-width="2.4" />
<rect x="1128.85" y="966.6" width="14.6" height="94.9" fill="#FF8000" stroke="#FF0000" stroke-width="2.2" />
<rect x="1144.35" y="1039.2" width="14.6" height="22.3" fill="#00FFFF" stroke="#0000FF" stroke-width="2.2" />
<rect x="1159.85" y="1046.5" width="14.6" height="15" fill="#00CC88" stroke="#008000" stroke-width="2.2" />
<rect x="1175.35" y="1054.9" width="14.6" height="6.6" fill="#808080" stroke="#000000" stroke-width="2.2" />
<line x1="1136.15" y1="961.5" x2="1136.15" y2="969.5" stroke="#FF0000" stroke-width="1.6" />
<line x1="1130.65" y1="961.5" x2="1141.65" y2="961.5" stroke="#FF0000" stroke-width="2.2" />
<line x1="1130.65" y1="969.5" x2="1141.65" y2="969.5" stroke="#FF0000" stroke-width="2.2" />
<line x1="1146.65" y1="1038.1" x2="1156.65" y2="1038.1" stroke="#0000FF" stroke-width="2.4" />
<line x1="1162.15" y1="1045.4" x2="1172.15" y2="1045.4" stroke="#008000" stroke-width="2.4" />
<line x1="1177.65" y1="1053.8" x2="1187.65" y2="1053.8" stroke="#000000" stroke-width="2.4" />
<rect x="1204.3" y="914.8" width="14.6" height="146.7" fill="#FF8000" stroke="#FF0000" stroke-width="2.2" />
<rect x="1219.8" y="1022.4" width="14.6" height="39.1" fill="#00FFFF" stroke="#0000FF" stroke-width="2.2" />
<rect x="1235.3" y="1040.8" width="14.6" height="20.7" fill="#00CC88" stroke="#008000" stroke-width="2.2" />
<rect x="1250.8" y="1052.8" width="14.6" height="8.7" fill="#808080" stroke="#000000" stroke-width="2.2" />
<line x1="1211.6" y1="910.2" x2="1211.6" y2="917.2" stroke="#FF0000" stroke-width="1.6" />
<line x1="1206.1" y1="910.2" x2="1217.1" y2="910.2" stroke="#FF0000" stroke-width="2.2" />
<line x1="1206.1" y1="917.2" x2="1217.1" y2="917.2" stroke="#FF0000" stroke-width="2.2" />
<line x1="1222.1" y1="1021.3" x2="1232.1" y2="1021.3" stroke="#0000FF" stroke-width="2.4" />
<line x1="1237.6" y1="1039.7" x2="1247.6" y2="1039.7" stroke="#008000" stroke-width="2.4" />
<line x1="1253.1" y1="1051.7" x2="1263.1" y2="1051.7" stroke="#000000" stroke-width="2.4" />
<rect x="1279.75" y="799.5" width="14.6" height="262" fill="#FF8000" stroke="#FF0000" stroke-width="2.2" />
<rect x="1295.25" y="1025.9" width="14.6" height="35.6" fill="#00FFFF" stroke="#0000FF" stroke-width="2.2" />
<rect x="1310.75" y="1041" width="14.6" height="20.5" fill="#00CC88" stroke="#008000" stroke-width="2.2" />
<rect x="1326.25" y="1054.3" width="14.6" height="7.2" fill="#808080" stroke="#000000" stroke-width="2.2" />
<line x1="1287.05" y1="790" x2="1287.05" y2="806.8" stroke="#FF0000" stroke-width="1.6" />
<line x1="1281.55" y1="790" x2="1292.55" y2="790" stroke="#FF0000" stroke-width="2.2" />
<line x1="1281.55" y1="806.8" x2="1292.55" y2="806.8" stroke="#FF0000" stroke-width="2.2" />
<line x1="1297.55" y1="1024.8" x2="1307.55" y2="1024.8" stroke="#0000FF" stroke-width="2.4" />
<line x1="1313.05" y1="1039.9" x2="1323.05" y2="1039.9" stroke="#008000" stroke-width="2.4" />
<line x1="1328.55" y1="1053.2" x2="1338.55" y2="1053.2" stroke="#000000" stroke-width="2.4" />
<rect x="1355.2" y="720.5" width="14.6" height="341" fill="#FF8000" stroke="#FF0000" stroke-width="2.2" />
<rect x="1370.7" y="1026.3" width="14.6" height="35.2" fill="#00FFFF" stroke="#0000FF" stroke-width="2.2" />
<rect x="1386.2" y="1046.4" width="14.6" height="15.1" fill="#00CC88" stroke="#008000" stroke-width="2.2" />
<rect x="1401.7" y="1058.6" width="14.6" height="2.9" fill="#808080" stroke="#000000" stroke-width="2.2" />
<line x1="1362.5" y1="717.8" x2="1362.5" y2="721" stroke="#FF0000" stroke-width="1.6" />
<line x1="1357" y1="717.8" x2="1368" y2="717.8" stroke="#FF0000" stroke-width="2.2" />
<line x1="1357" y1="721" x2="1368" y2="721" stroke="#FF0000" stroke-width="2.2" />
<line x1="1373" y1="1025.2" x2="1383" y2="1025.2" stroke="#0000FF" stroke-width="2.4" />
<line x1="1388.5" y1="1045.3" x2="1398.5" y2="1045.3" stroke="#008000" stroke-width="2.4" />
<line x1="1404" y1="1057.5" x2="1414" y2="1057.5" stroke="#000000" stroke-width="2.4" />
<path d="M895,653 L1423,653 L1423,1062.5 L895,1062.5 Z" fill="none" stroke="#000" stroke-width="3.1"/>
<text x="932.45" y="1088.6" font-size="24.2" text-anchor="middle" fill="#000" font-weight="bold" >&#8722;0.57</text>
<text x="1007.9" y="1088.6" font-size="24.2" text-anchor="middle" fill="#000" font-weight="bold" >&#8722;0.63</text>
<text x="1083.35" y="1088.6" font-size="24.2" text-anchor="middle" fill="#000" font-weight="bold" >&#8722;0.69</text>
<text x="1158.8" y="1088.6" font-size="24.2" text-anchor="middle" fill="#000" font-weight="bold" >&#8722;0.75</text>
<text x="1234.25" y="1088.6" font-size="24.2" text-anchor="middle" fill="#000" font-weight="bold" >&#8722;0.81</text>
<text x="1309.7" y="1088.6" font-size="24.2" text-anchor="middle" fill="#000" font-weight="bold" >&#8722;0.87</text>
<text x="1385.15" y="1088.6" font-size="24.2" text-anchor="middle" fill="#000" font-weight="bold" >&#8722;0.93</text>
<text x="1166.7" y="1126.8" font-size="28" text-anchor="middle" fill="#000" font-weight="bold" >E-iR (V vs. RHE)</text>
<g transform="translate(822.9,915.2) rotate(-90)"><text x="0" y="0" font-size="34.5" font-weight="bold">TOF (h<tspan font-size="22" dy="-16.5">-1</tspan><tspan dy="16.5">)</tspan></text></g>
<text transform="translate(777.6,657.4) scale(1.03,1.06)" font-size="60" font-weight="bold">c</text>
<rect x="908.4" y="663.2" width="47.9" height="22.4" fill="#FF8000" stroke="#FF0000" stroke-width="2.2" />
<text x="974.2" y="679.9" font-size="22.1" text-anchor="start" fill="#FF0000" font-weight="bold" >Zn-SA/CNCl-1000</text>
<rect x="908.4" y="690.1" width="47.9" height="22.4" fill="#00FFFF" stroke="#0000FF" stroke-width="2.2" />
<text x="974.2" y="707" font-size="22.1" text-anchor="start" fill="#0000FF" font-weight="bold" >Zn-SA/CNCl-920</text>
<rect x="908.4" y="717" width="47.9" height="22.4" fill="#00CC88" stroke="#008000" stroke-width="2.2" />
<text x="974.2" y="734.1" font-size="22.1" text-anchor="start" fill="#008000" font-weight="bold" >Zn-SA/CNCl-850</text>
<rect x="908.4" y="743.5" width="47.9" height="22.4" fill="#808080" stroke="#000000" stroke-width="2.2" />
<text x="974.2" y="761.6" font-size="22.1" text-anchor="start" fill="#000000" font-weight="bold" >Zn-SA/CN-1000</text>
<g clip-path="url(#clipph)">
<linearGradient id="lpanel" x1="0" y1="0" x2="1" y2="0"><stop offset="0" stop-color="#9C9F95"/><stop offset="0.25" stop-color="#7C807C"/><stop offset="0.6" stop-color="#575B59"/><stop offset="1" stop-color="#5A5E5C"/></linearGradient>
<linearGradient id="paperg" x1="0" y1="0" x2="0" y2="1"><stop offset="0" stop-color="#F1F2F5"/><stop offset="0.55" stop-color="#EDEEF1"/><stop offset="0.8" stop-color="#E3E5E9"/><stop offset="1" stop-color="#EBECEF"/></linearGradient>
<linearGradient id="cellg" x1="0" y1="0" x2="1" y2="1"><stop offset="0" stop-color="#ABABA8"/><stop offset="0.5" stop-color="#A3A3A0"/><stop offset="1" stop-color="#96968F"/></linearGradient>
<linearGradient id="sideg" x1="0" y1="0" x2="1" y2="0"><stop offset="0" stop-color="#A6A6A2"/><stop offset="0.35" stop-color="#BDBDB9"/><stop offset="0.5" stop-color="#D8D8D6"/><stop offset="0.6" stop-color="#B8B8B4"/><stop offset="1" stop-color="#A8A8A4"/></linearGradient>
<g filter="url(#blur2)">
<rect x="200" y="1238" width="382" height="260" fill="#C3CAD1" stroke="none" stroke-width="1" />
<rect x="200" y="1238" width="382" height="80" fill="#D3D5D4" stroke="none" stroke-width="1" />
<polygon points="200,1238 257.4,1238 262.7,1317 225.4,1331 200,1340" fill="url(#lpanel)"/>
<path d="M200,1278 C215,1268 235,1258 255,1250 C265,1247 275,1244 285,1243" stroke="#D6DAD6" stroke-width="4.5" fill="none"/>
<path d="M219.5,1272 L219,1288" stroke="#C8D0D8" stroke-width="4" stroke-linecap="round"/>
<path d="M225.5,1277 L234,1311" stroke="#C8D0D8" stroke-width="5" stroke-linecap="round"/>
<ellipse cx="222" cy="1262" rx="6" ry="9" fill="#CACFCC"/>
<rect x="262" y="1246" width="13" height="24" fill="#B4AE98" stroke="none" stroke-width="1" />
<rect x="277" y="1246" width="30" height="22" fill="#C9C6B8" stroke="none" stroke-width="1" />
<rect x="257" y="1268" width="55" height="8" fill="#E4E6E6" stroke="none" stroke-width="1" />
<ellipse cx="266" cy="1296" rx="9" ry="13" fill="#E6E8EA"/>
<path d="M258,1283 C270,1276 285,1282 300,1278 M262,1300 C275,1318 292,1312 300,1300 M280,1290 C286,1305 296,1318 305,1312 M270,1306 C282,1320 300,1322 310,1316" stroke="#1E1E20" stroke-width="2.6" fill="none"/>
<path d="M262,1274 L300,1290" stroke="#C49070" stroke-width="2.5"/>
<polygon points="257,1314 316,1314 316,1332 262,1332" fill="#BAC3CB"/>
<rect x="315.4" y="1258" width="48" height="74" fill="#C6CAD0" stroke="none" stroke-width="1" />
<rect x="324.7" y="1238" width="38.7" height="22" fill="#1F2B5C" stroke="none" stroke-width="1" />
<path d="M330,1246 L350,1256" stroke="#6A78A8" stroke-width="3"/>
<rect x="326" y="1284.7" width="32" height="19.1" fill="#1FC2EF" stroke="none" stroke-width="1" />
<rect x="331" y="1289" width="22" height="9" fill="#7ED8F6" stroke="none" stroke-width="1" />
<rect x="325" y="1313" width="5" height="4" fill="#6E7278" stroke="none" stroke-width="1" />
<rect x="325" y="1320" width="5" height="4" fill="#6E7278" stroke="none" stroke-width="1" />
<rect x="334" y="1313" width="5" height="4" fill="#6E7278" stroke="none" stroke-width="1" />
<rect x="334" y="1320" width="5" height="4" fill="#6E7278" stroke="none" stroke-width="1" />
<rect x="343" y="1313" width="5" height="4" fill="#6E7278" stroke="none" stroke-width="1" />
<rect x="343" y="1320" width="5" height="4" fill="#6E7278" stroke="none" stroke-width="1" />
<rect x="310.7" y="1238" width="3.3" height="100" fill="#80848A" stroke="none" stroke-width="1" />
<rect x="363.4" y="1238" width="98" height="60" fill="#D2D6DA" stroke="none" stroke-width="1" />
<rect x="405" y="1267" width="30" height="26" fill="#2A2C31" stroke="none" stroke-width="1" />
<polygon points="357,1262 374,1259 376,1270 358,1272" fill="#E2602E"/>
<polygon points="380,1259 392,1257 392,1267 381,1269" fill="#E8702F"/>
<polygon points="461,1238 560,1238 547,1311 461,1307" fill="#25272B"/>
<rect x="463" y="1279" width="63" height="6" fill="#A2A6AA" stroke="none" stroke-width="1" />
<rect x="463" y="1288" width="60" height="3" fill="#4A4E54" stroke="none" stroke-width="1" />
<polygon points="558,1238 582,1238 582,1322 546,1318" fill="#CDD0D4"/>
<polygon points="532,1277 551,1277 552,1327 531,1327" fill="#A6ACB0" opacity="0.8"/>
<polygon points="200,1340 225.4,1331 262.7,1317 316,1332 363,1330 461,1307 547,1311 582,1322 582,1372 246,1376 200,1420" fill="#C2CBD3"/>
</g>
<g filter="url(#blur1)">
<polygon points="205.7,1340 230,1331 262,1321 313,1322 354,1327 354,1337 300,1355 285,1363 207,1352" fill="#121214"/>
<polygon points="262,1322 313,1322 352,1327 328,1337 268,1341 240,1337" fill="#34363B"/>
<path d="M287,1350 L323,1337.5" stroke="#B8BCC0" stroke-width="1.3"/>
<polygon points="322,1329 348,1327 347,1331 324,1335" fill="#3562D8"/>
<polygon points="246,1375 582,1371 582,1498 200,1498 200,1420" fill="url(#paperg)"/>
<path d="M200,1404 C250,1392 300,1378 345,1363 M200,1449 C260,1432 310,1415 356,1402" stroke="#F4F6F8" stroke-width="4" fill="none"/>
<path d="M200,1401 C250,1389 300,1375 345,1360 M200,1446 C260,1429 310,1412 356,1399" stroke="#C4CCD2" stroke-width="0.8" fill="none"/>
<path d="M200,1407 C250,1395 300,1381 345,1366 M200,1452 C260,1435 310,1418 356,1405" stroke="#C4CCD2" stroke-width="0.8" fill="none"/>
<polygon points="353.5,1318 421,1323 419,1456 411,1459 352.5,1413" fill="url(#cellg)"/>
<polygon points="420,1323 454,1321 451.5,1436 423.5,1457 418,1457" fill="url(#sideg)"/>
<polygon points="372,1311 456,1313 454,1322 421,1324 353.5,1318" fill="#CFCFCC"/>
<path d="M372,1312 L455,1314" stroke="#EDEDEB" stroke-width="1.2"/>
<radialGradient id="boltg" cx="0.5" cy="0.5" r="0.5" fx="0.65" fy="0.35"><stop offset="0" stop-color="#E8E8E6"/><stop offset="0.6" stop-color="#B4B4B2"/><stop offset="1" stop-color="#7E7E7C"/></radialGradient>
<circle cx="353.8" cy="1320.5" r="6.6" fill="url(#boltg)"/><circle cx="351.49" cy="1320.8" r="2.64" fill="#3E3E40"/>
<circle cx="369.4" cy="1324.3" r="7" fill="url(#boltg)"/><circle cx="366.95" cy="1324.6" r="2.8" fill="#3E3E40"/>
<circle cx="380.4" cy="1327.5" r="6.6" fill="url(#boltg)"/><circle cx="378.09" cy="1327.8" r="2.64" fill="#3E3E40"/>
<circle cx="408" cy="1336" r="8.2" fill="url(#boltg)"/><circle cx="405.13" cy="1336.3" r="3.28" fill="#3E3E40"/>
<circle cx="404.1" cy="1395.6" r="9.4" fill="url(#boltg)"/><circle cx="400.81" cy="1395.9" r="3.76" fill="#3E3E40"/>
<circle cx="374.5" cy="1423.7" r="7.4" fill="url(#boltg)"/><circle cx="371.91" cy="1424" r="2.96" fill="#3E3E40"/>
<circle cx="402.5" cy="1447" r="8.6" fill="url(#boltg)"/><circle cx="399.49" cy="1447.3" r="3.44" fill="#3E3E40"/>
<polygon points="341,1353 369,1350 376,1357 374,1368 346,1371" fill="#EDEDEA" stroke="#D2D2CE" stroke-width="0.8"/>
<polygon points="356,1392 384,1388.8 391.3,1396 390,1408 360,1413.3" fill="#EAEAE8" stroke="#D0D0CC" stroke-width="0.8"/>
<path d="M448,1240 C455,1270 470,1300 462,1335 C458,1350 452,1355 449,1360" stroke="#DCE2E8" stroke-width="2.2" fill="none"/>
<polygon points="457,1296 492,1297 494,1304 458,1303" fill="#3A50C8"/>
<path d="M370,1296 L410,1250" stroke="#E4E1DB" stroke-width="11.5" stroke-linecap="round"/>
<path d="M410,1250 L420,1238" stroke="#E2E2E2" stroke-width="3"/>
<polygon points="364,1296 377,1297 379,1318 366,1318" fill="#1B1F2E"/>
<path d="M376,1303 C380,1296 392,1293 402,1294 C410,1293 416,1292 424,1295 L425,1301 C418,1303 412,1306 403,1308 C394,1310 384,1310 377,1309 Z" fill="#DB283A"/>
<path d="M421,1297 C460,1298 505,1310 547.5,1338 C560,1346 572,1354 582,1361" stroke="#E6E6E4" stroke-width="3.8" fill="none"/>
<path d="M509,1339 C535,1349 560,1362 582,1376" stroke="#E9E9E9" stroke-width="3.4" fill="none"/>
<path d="M444,1311 C458,1308 476,1314 494,1322 C502,1326 506,1328 511,1329 L511,1338 C503,1338 495,1337 486,1334 C472,1331 458,1328 446,1326 Z" fill="#2DC58F"/>
<path d="M451,1313 C462,1313 475,1316 486,1320" stroke="#BDF0DA" stroke-width="0.9" fill="none"/>
</g></g>
<g clip-path="url(#clipd)">
<polyline points="85.7,1533.17 87.85,1532.14 90,1531.3 92,1530.14 94,1529.34 96,1528.56 98,1527.78 100,1527.51 102,1527.09 104,1526.71 106.17,1525.88 108.35,1525.69 110.53,1525.2 112.7,1525.37 114.88,1524.95 117.05,1524.15 119.23,1524.48 121.4,1524.13 123.47,1523.53 125.53,1523.13 127.6,1522.43 129.67,1521.95 131.73,1521.93 133.8,1521.23 135.87,1520.94 137.93,1520.6 140,1520.07 142.07,1520.12 144.15,1519.85 146.22,1519.88 148.29,1519.4 150.36,1519.23 152.44,1518.87 154.51,1518.73 156.58,1518.33 158.65,1517.95 160.73,1518.2 162.8,1517.95 164.87,1517.63 166.94,1517.34 169.01,1516.86 171.08,1516.59 173.15,1516.43 175.22,1516.07 177.29,1516.35 179.36,1515.89 181.43,1516 183.5,1515.47 185.57,1515.67 187.64,1515.38 189.71,1514.59 191.78,1514.53 193.85,1514.81 195.92,1514.3 197.99,1514.45 200.06,1513.84 202.13,1513.41 204.2,1513.59 206.27,1513.52 208.34,1513 210.41,1512.7 212.48,1512.7 214.55,1512.97 216.62,1512.66 218.69,1512.04 220.76,1511.96 222.83,1511.69 224.9,1511.49 226.97,1511.84 229.04,1511.23 231.11,1511.33 233.18,1511.08 235.25,1510.73 237.32,1510.94 239.39,1510.35 241.46,1510.54 243.53,1510 245.6,1510.04 247.67,1509.76 249.74,1509.66 251.81,1510.01 253.88,1509.75 255.95,1509.26 258.02,1509.53 260.09,1508.92 262.16,1508.91 264.23,1509.09 266.3,1508.8 268.37,1508.28 270.44,1508.76 272.51,1508.08 274.58,1507.97 276.65,1508.19 278.72,1507.74 280.79,1507.58 282.86,1507.28 284.93,1507.15 287,1507.36 289.06,1507.02 291.13,1507.16 293.19,1506.9 295.26,1506.85 297.32,1507.1 299.39,1506.66 301.45,1506.62 303.52,1506.72 305.58,1506.13 307.65,1506.01 309.72,1506.43 311.78,1506.26 313.85,1505.76 315.91,1505.61 317.98,1505.89 320.04,1505.93 322.11,1505.3 324.17,1505.73 326.24,1505.57 328.3,1505.27 330.38,1505.06 332.47,1504.75 334.56,1504.62 336.64,1505.18 338.73,1504.59 340.81,1504.83 342.89,1504.43 344.98,1504.75 347.06,1504.5 349.15,1504.21 351.24,1504.04 353.32,1504.33 355.41,1503.79 357.49,1503.82 359.57,1503.97 361.66,1504.09 363.75,1503.84 365.83,1503.52 367.92,1503.88 370,1503.29 372.05,1503.1 374.1,1503.22 376.15,1503.28 378.2,1502.95 380.25,1502.97 382.3,1503.05 384.35,1503.13 386.4,1502.76 388.45,1502.86 390.5,1503.17 392.55,1503.18 394.6,1502.89 396.65,1502.85 398.7,1502.72 400.75,1502.35 402.8,1502.21 404.85,1502.14 406.9,1502.71 408.95,1502.5 411,1502.62 413.02,1501.93 415.05,1502.33 417.07,1502.19 419.1,1502.33 421.12,1502.01 423.15,1502.46 425.17,1501.78 427.2,1502.08 429.22,1502.18 431.24,1502.26 433.27,1502.12 435.29,1502.06 437.32,1502.09 439.34,1502.15 441.37,1501.72 443.39,1501.92 445.41,1502.04 447.44,1501.99 449.46,1501.64 451.49,1501.87 453.51,1501.89 455.54,1501.65 457.56,1501.66 459.59,1501.46 461.61,1501.57 463.63,1501.55 465.66,1501.15 467.68,1501.51 469.71,1501.73 471.73,1501.61 473.76,1501.48 475.78,1501.21 477.8,1501.42 479.83,1501.28 481.85,1501.15 483.88,1501.4 485.9,1500.84 487.93,1501.27 489.95,1500.73 491.98,1501.1 494,1500.99 496.02,1500.79 498.03,1501.1 500.05,1500.94 502.07,1501 504.09,1501.2 506.1,1500.71 508.12,1500.52 510.14,1500.7 512.15,1500.95 514.17,1500.6 516.19,1500.55 518.2,1501.05 520.22,1500.86 522.24,1500.69 524.26,1500.98 526.27,1500.57 528.29,1500.78 530.31,1500.44 532.32,1500.58 534.34,1500.82 536.36,1500.88 538.38,1500.84 540.39,1500.47 542.41,1500.59 544.43,1500.38 546.44,1500.24 548.46,1500.47 550.48,1500.69 552.5,1500.68 554.51,1500.56 556.53,1500.71 558.55,1500.22 560.56,1500.12 562.58,1500.3 564.6,1500.16 566.61,1500.1 568.63,1500.22 570.65,1500.35 572.67,1500.23 574.68,1500.09 576.7,1500.44 578.72,1500.53 580.75,1500.15 582.77,1499.88 584.79,1499.84 586.81,1500.42 588.84,1499.82 590.86,1500.28 592.88,1500.18 594.9,1499.98 596.93,1500.31 598.95,1499.76 600.97,1499.84 603,1500.05 605.02,1499.74 607.04,1500.29 609.06,1499.87 611.09,1499.79 613.11,1499.72 615.13,1500.12 617.15,1499.98 619.18,1500.1 621.2,1500.11 623.22,1500.21 625.25,1500.3 627.27,1500.1 629.29,1499.75 631.31,1499.94 633.34,1499.72 635.36,1499.59 637.38,1499.91 639.4,1500.07 641.43,1499.68 643.45,1499.74 645.47,1499.78 647.5,1500.02 649.52,1499.89 651.54,1499.94 653.56,1500.03 655.59,1499.77 657.61,1500.04 659.63,1500.11 661.65,1499.53 663.68,1500.11 665.7,1499.96 667.72,1499.55 669.74,1499.79 671.75,1499.92 673.77,1500.13 675.79,1499.77 677.81,1499.92 679.82,1500.15 681.84,1500.1 683.86,1500.22 685.88,1499.89 687.89,1500.04 689.91,1499.73 691.93,1500.11 693.95,1500.19 695.96,1500.08 697.98,1500.14 700,1499.8 702,1500.29 704,1500.36 706,1500.36 708,1500.07 710,1500.25 712,1499.93 714,1500.36 716,1500.33 718,1499.98 720,1499.81 722,1500.07 724,1500.16 726,1500.32 728,1500.13 730,1499.82 732,1500.38 734,1499.86 736,1500.39 738,1499.96 740,1500.08 742,1500.41 744,1499.97 746,1499.98 748,1500.25 750,1500.41 752,1500.5 754,1500.4 756,1500.59 758,1500.28 760,1500.61 762.03,1500 764.05,1500.09 766.08,1500.29 768.11,1500.12 770.13,1500.42 772.16,1500.35 774.18,1500.26 776.21,1500.48 778.24,1500.27 780.26,1500.09 782.29,1500.13 784.32,1500.45 786.34,1500.48 788.37,1499.99 790.39,1500.43 792.42,1500.5 794.45,1500.18 796.47,1500.21 798.5,1499.94 800.53,1500.17 802.55,1500.14 804.58,1500.2 806.61,1499.79 808.63,1500.44 810.66,1500.11 812.68,1500.03 814.71,1500.3 816.74,1500.12 818.76,1500.06 820.79,1500.2 822.82,1499.75 824.84,1500.07 826.87,1499.98 828.89,1500.35 830.92,1500.32 832.95,1499.85 834.97,1499.99 837,1499.74 839.05,1499.94 841.1,1500.2 843.14,1500.25 845.19,1499.95 847.24,1499.82 849.29,1499.73 851.33,1500.02 853.38,1500.22 855.43,1499.65 857.48,1500.1 859.52,1499.56 861.57,1499.67 863.62,1499.69 865.67,1500 867.71,1499.73 869.76,1499.75 871.81,1499.92 873.86,1499.55 875.9,1499.98 877.95,1499.55 880,1499.81 882,1499.55 884,1499.43 886,1499.58 888,1499.44 890,1499.31 892,1499.26 894,1499.26 896,1498.92 898,1498.87 900,1499.09 902,1499.02 904,1498.86 906,1499.01 908,1498.76 910,1498.85 912,1498.33 914,1498.61 916,1498.58 918,1498.56 920,1498.07 922,1498.03 924,1498.42 926,1497.88 928,1498.39 930,1498.27 932,1497.7 934,1497.74 936,1498.04 938,1497.67 940,1497.52 942,1497.99 944,1497.67 946,1497.88 948,1497.38 950,1497.53 952,1497.69 954,1497.18 956,1497.27 958,1497.57 960,1497.69 962.14,1497.7 964.29,1497.07 966.43,1497.32 968.57,1497.47 970.71,1497.26 972.86,1497.36 975,1496.98 977.17,1496.88 979.33,1496.89 981.5,1496.83 983.67,1497.17 985.83,1497.13 988,1497.1" fill="none" stroke="#000" stroke-width="3" stroke-linejoin="round"/>
<polygon points="985,1496.37 986.1,1495.62 987.2,1496.76 988.3,1496.75 989.4,1495.82 990.5,1495.92 991.6,1495.55 992.7,1495.39 993.8,1495.41 994.9,1495.08 996,1495.33 997.1,1495.56 998.2,1495.34 999.3,1495.25 1000.4,1495.97 1001.5,1495.86 1002.6,1495.44 1003.7,1493.9 1004.8,1493.48 1005.9,1494.47 1007,1494.32 1008.1,1493.86 1009.2,1494.66 1010.3,1492.49 1011.4,1492.07 1012.5,1492.37 1013.6,1492.02 1014.7,1493.34 1015.8,1493.32 1016.9,1490.56 1018,1490.21 1019.1,1492.55 1020.2,1489.62 1021.3,1489.13 1022.4,1490.97 1023.5,1490.17 1024.6,1489.52 1025.7,1489.33 1026.8,1489.5 1027.9,1490.27 1029,1490.4 1030.1,1492.37 1031.2,1492.59 1032.3,1490.47 1033.4,1490.55 1034.5,1490.07 1035.6,1490.37 1036.7,1490.19 1037.8,1491.17 1038.9,1490.29 1040,1490.81 1041.1,1490.48 1042.2,1491.83 1043.3,1490.26 1044.4,1491 1045.5,1489.71 1046.6,1489.79 1047.7,1489.02 1048.8,1490.49 1049.9,1488.73 1051,1489.97 1052.1,1489.61 1053.2,1488.69 1054.3,1487.96 1055.4,1490.03 1056.5,1487.76 1057.6,1487.97 1058.7,1487.71 1059.8,1488.38 1060.9,1489.71 1062,1488.68 1063.1,1487.13 1064.2,1487.46 1065.3,1487.02 1066.4,1487.57 1067.5,1488.91 1068.6,1488.8 1069.7,1487.4 1070.8,1488.99 1071.9,1486.78 1073,1487.13 1074.1,1487.44 1075.2,1486.85 1076.3,1486.7 1077.4,1486.3 1078.5,1486.96 1079.6,1487.73 1080.7,1486.55 1081.8,1486.34 1082.9,1485.79 1084,1485.87 1085.1,1487.84 1086.2,1485.59 1087.3,1487.68 1088.4,1488.21 1089.5,1485.56 1090.6,1487.82 1091.7,1485.46 1092.8,1485.51 1093.9,1486.63 1095,1487.03 1096.1,1484.53 1097.2,1485.46 1098.3,1485.51 1099.4,1484.25 1100.5,1484.59 1101.6,1484.12 1102.7,1486.73 1103.8,1484.39 1104.9,1486.01 1106,1484.28 1107.1,1486.03 1108.2,1486.16 1109.3,1484.37 1110.4,1484 1111.5,1484.12 1112.6,1485.89 1113.7,1484.94 1114.8,1485.33 1115.9,1484.69 1117,1485.4 1118.1,1483.59 1119.2,1485.78 1120.3,1486.07 1121.4,1482.65 1122.5,1482.98 1123.6,1482.02 1124.7,1481.7 1125.8,1484.83 1126.9,1480.92 1128,1484.21 1129.1,1480.71 1130.2,1479.58 1131.3,1480.51 1132.4,1479.29 1133.5,1481.83 1134.6,1478.7 1135.7,1481.44 1136.8,1481.69 1137.9,1480.24 1139,1482.07 1140.1,1479.16 1141.2,1479.13 1142.3,1481.15 1143.4,1481.46 1144.5,1478.17 1145.6,1481.9 1146.7,1477.57 1147.8,1478 1148.9,1480.36 1150,1477.7 1151.1,1476.82 1152.2,1479.68 1153.3,1481.5 1154.4,1478.95 1155.5,1477.64 1156.6,1480.34 1157.7,1478.24 1158.8,1476.76 1159.9,1477.5 1161,1476.27 1162.1,1479.38 1163.2,1476.19 1164.3,1476.86 1165.4,1476.23 1166.5,1477.06 1167.6,1479.37 1168.7,1481.51 1169.8,1475.98 1170.9,1481.27 1172,1479.12 1173.1,1477.49 1174.2,1475.87 1175.3,1481.05 1176.4,1480.61 1177.5,1476.02 1178.6,1477.31 1179.7,1477.35 1180.8,1477.73 1181.9,1475.45 1183,1476.13 1184.1,1476.24 1185.2,1478.54 1186.3,1475.25 1187.4,1480.77 1188.5,1477.36 1189.6,1476.16 1190.7,1476.51 1191.8,1477.11 1192.9,1480.08 1194,1475.23 1195.1,1474.45 1196.2,1478.8 1197.3,1476.08 1198.4,1474.88 1199.5,1476.49 1200.6,1477.22 1201.7,1476.33 1202.8,1475.48 1203.9,1479.13 1205,1474.02 1206.1,1479.26 1207.2,1474.46 1208.3,1473.76 1209.4,1475.73 1210.5,1478.6 1211.6,1477.26 1212.7,1479.02 1213.8,1475.56 1214.9,1475.18 1216,1478.9 1217.1,1476.02 1218.2,1475.56 1219.3,1477.45 1220.4,1474.32 1221.5,1474.5 1222.6,1477.85 1223.7,1479.1 1224.8,1475.06 1225.9,1474.85 1227,1474.82 1228.1,1474.72 1229.2,1474.38 1230.3,1476.5 1231.4,1472.09 1232.5,1474.65 1233.6,1474.59 1234.7,1475.18 1235.8,1473.31 1236.9,1470.18 1238,1472.07 1239.1,1469.43 1240.2,1467.39 1241.3,1468.07 1242.4,1468.55 1243.5,1469.09 1244.6,1469.88 1245.7,1465.97 1246.8,1465.93 1247.9,1469.76 1249,1466.94 1250.1,1466.75 1251.2,1468.03 1252.3,1468.64 1253.4,1469.86 1254.5,1470.24 1255.6,1469.23 1256.7,1467.64 1257.8,1466.21 1258.9,1467.48 1260,1464.53 1261.1,1464.94 1262.2,1464.73 1263.3,1465.5 1264.4,1468.55 1265.5,1464.22 1266.6,1463.56 1267.7,1463.04 1268.8,1464.82 1269.9,1462.78 1271,1463.58 1272.1,1463.6 1273.2,1462.74 1274.3,1462.36 1275.4,1461.82 1276.5,1461.79 1277.6,1466.97 1278.7,1464.18 1279.8,1461.72 1280.9,1463.14 1282,1461.77 1283.1,1463.69 1284.2,1467.14 1285.3,1461.62 1286.4,1464.83 1287.5,1460.04 1288.6,1460.58 1289.7,1461.49 1290.8,1466.06 1291.9,1460.85 1293,1461.46 1294.1,1465.32 1295.2,1462.62 1296.3,1460.5 1297.4,1462.95 1298.5,1461.62 1299.6,1463.53 1300.7,1463.13 1301.8,1458.88 1302.9,1459 1304,1460.15 1305.1,1458.25 1306.2,1459.06 1307.3,1459.95 1308.4,1459.46 1309.5,1460.02 1310.6,1462.44 1311.7,1460.88 1312.8,1460.53 1313.9,1459.5 1315,1459.64 1316.1,1459.26 1317.2,1459.72 1318.3,1459.9 1319.4,1461.34 1320.5,1461.25 1321.6,1462.18 1322.7,1459.94 1323.8,1463.75 1324.9,1462.18 1326,1458.91 1327.1,1458.63 1328.2,1461.41 1329.3,1459.83 1330.4,1462.77 1331.5,1456.9 1332.6,1458.5 1333.7,1457.09 1334.8,1460.49 1335.9,1459.25 1337,1458.6 1338.1,1459.25 1339.2,1461.49 1340.3,1460.62 1341.4,1458.93 1342.5,1459.63 1343.6,1456.82 1344.7,1453.42 1345.8,1454.3 1346.9,1453.56 1348,1452.39 1349.1,1457.13 1350.2,1457.4 1351.3,1453.1 1352.4,1452.78 1353.5,1451.42 1354.6,1455.93 1355.7,1452 1356.8,1454.78 1357.9,1451.92 1359,1451.57 1360.1,1452.49 1361.2,1452.2 1361.2,1467.93 1360.1,1466.88 1359,1467.76 1357.9,1468.01 1356.8,1467.99 1355.7,1468.23 1354.6,1467.78 1353.5,1467.88 1352.4,1468.74 1351.3,1468.06 1350.2,1468.4 1349.1,1468.95 1348,1468.74 1346.9,1468.97 1345.8,1469.42 1344.7,1469.87 1343.6,1469.84 1342.5,1470.3 1341.4,1470.88 1340.3,1470.75 1339.2,1470.47 1338.1,1471.21 1337,1471.04 1335.9,1470.83 1334.8,1470.71 1333.7,1471.15 1332.6,1472.21 1331.5,1471.74 1330.4,1472.28 1329.3,1472.23 1328.2,1471.78 1327.1,1472.27 1326,1471.83 1324.9,1472.01 1323.8,1471.81 1322.7,1471.97 1321.6,1471.99 1320.5,1472.25 1319.4,1471.79 1318.3,1471.85 1317.2,1472.78 1316.1,1472.55 1315,1472.45 1313.9,1472.84 1312.8,1472.72 1311.7,1472.96 1310.6,1473.12 1309.5,1473.01 1308.4,1473.64 1307.3,1474.05 1306.2,1474.23 1305.1,1473.93 1304,1473.55 1302.9,1473.67 1301.8,1474 1300.7,1473.88 1299.6,1474.61 1298.5,1474.02 1297.4,1474.34 1296.3,1474.26 1295.2,1474.67 1294.1,1475.23 1293,1474.48 1291.9,1474.47 1290.8,1475.43 1289.7,1474.77 1288.6,1475.51 1287.5,1475.04 1286.4,1475.12 1285.3,1474.95 1284.2,1475.96 1283.1,1475.53 1282,1475.32 1280.9,1475.8 1279.8,1475.46 1278.7,1476.29 1277.6,1476.41 1276.5,1476.25 1275.4,1476.26 1274.3,1476.2 1273.2,1475.85 1272.1,1475.66 1271,1475.6 1269.9,1476.47 1268.8,1475.74 1267.7,1475.35 1266.6,1475.18 1265.5,1475.26 1264.4,1475.63 1263.3,1475.25 1262.2,1475.02 1261.1,1475.7 1260,1474.71 1258.9,1474.85 1257.8,1474.53 1256.7,1473.79 1255.6,1474.01 1254.5,1473.78 1253.4,1472.91 1252.3,1474.27 1251.2,1474.97 1250.1,1476.69 1249,1477.51 1247.9,1477.75 1246.8,1477.67 1245.7,1476.57 1244.6,1476.79 1243.5,1476.04 1242.4,1475.59 1241.3,1477.17 1240.2,1478.85 1239.1,1481.1 1238,1482.05 1236.9,1483.3 1235.8,1483.28 1234.7,1484.01 1233.6,1484.42 1232.5,1484.56 1231.4,1485.43 1230.3,1486.05 1229.2,1486.79 1228.1,1486.77 1227,1486.45 1225.9,1486.17 1224.8,1486.63 1223.7,1485.76 1222.6,1486.4 1221.5,1486.49 1220.4,1486.21 1219.3,1486.29 1218.2,1485.36 1217.1,1485.44 1216,1486.4 1214.9,1486.66 1213.8,1486.28 1212.7,1486.47 1211.6,1486.07 1210.5,1486.62 1209.4,1487.43 1208.3,1486.88 1207.2,1487.82 1206.1,1487.79 1205,1487.68 1203.9,1488.02 1202.8,1487.9 1201.7,1487.24 1200.6,1487.58 1199.5,1488.1 1198.4,1487.92 1197.3,1487.45 1196.2,1488.32 1195.1,1488.56 1194,1487.91 1192.9,1488.21 1191.8,1488.31 1190.7,1488.71 1189.6,1488.32 1188.5,1488.62 1187.4,1488.41 1186.3,1488.07 1185.2,1488.72 1184.1,1488.32 1183,1488.74 1181.9,1488.67 1180.8,1489.13 1179.7,1489.1 1178.6,1489.07 1177.5,1488.57 1176.4,1489.07 1175.3,1489.17 1174.2,1488.89 1173.1,1489.34 1172,1489.77 1170.9,1489.42 1169.8,1488.97 1168.7,1489.43 1167.6,1489.34 1166.5,1489.3 1165.4,1489.83 1164.3,1490.14 1163.2,1490.39 1162.1,1489.87 1161,1490.42 1159.9,1490.13 1158.8,1490.01 1157.7,1490.18 1156.6,1489.42 1155.5,1490.35 1154.4,1489.88 1153.3,1489.8 1152.2,1490.32 1151.1,1489.91 1150,1489.89 1148.9,1489.67 1147.8,1490.4 1146.7,1490.25 1145.6,1489.57 1144.5,1489.8 1143.4,1490.53 1142.3,1489.64 1141.2,1489.87 1140.1,1490.05 1139,1490.14 1137.9,1490.59 1136.8,1490.08 1135.7,1489.85 1134.6,1490.4 1133.5,1489.87 1132.4,1489.83 1131.3,1489.77 1130.2,1489.77 1129.1,1490.03 1128,1490.39 1126.9,1489.9 1125.8,1490.43 1124.7,1489.96 1123.6,1490.26 1122.5,1490.39 1121.4,1489.4 1120.3,1490.04 1119.2,1490.2 1118.1,1489.81 1117,1489.74 1115.9,1490.56 1114.8,1489.67 1113.7,1490.9 1112.6,1490.4 1111.5,1490.96 1110.4,1490.46 1109.3,1490.35 1108.2,1490.3 1107.1,1490.7 1106,1490.31 1104.9,1490.42 1103.8,1490.49 1102.7,1490.4 1101.6,1491.02 1100.5,1490.59 1099.4,1490.6 1098.3,1491.73 1097.2,1490.93 1096.1,1491.98 1095,1491.4 1093.9,1491.86 1092.8,1492.27 1091.7,1492.2 1090.6,1492.33 1089.5,1492.3 1088.4,1492.15 1087.3,1492.08 1086.2,1492.41 1085.1,1492.18 1084,1492.17 1082.9,1493.19 1081.8,1492.32 1080.7,1492.41 1079.6,1493.58 1078.5,1493.09 1077.4,1493.59 1076.3,1493.26 1075.2,1493.6 1074.1,1493.16 1073,1493.19 1071.9,1493.88 1070.8,1493.24 1069.7,1493.44 1068.6,1494.07 1067.5,1493.17 1066.4,1493.51 1065.3,1493.97 1064.2,1493.29 1063.1,1493.34 1062,1494.12 1060.9,1493.45 1059.8,1493.54 1058.7,1494.63 1057.6,1494.03 1056.5,1494.19 1055.4,1494.37 1054.3,1494.72 1053.2,1494.17 1052.1,1494.6 1051,1494.75 1049.9,1495.22 1048.8,1495.17 1047.7,1495.14 1046.6,1494.79 1045.5,1496.03 1044.4,1495.86 1043.3,1495.75 1042.2,1495.61 1041.1,1496.36 1040,1496.28 1038.9,1496.1 1037.8,1496.22 1036.7,1496.38 1035.6,1496.27 1034.5,1496.24 1033.4,1496.48 1032.3,1496.37 1031.2,1496.5 1030.1,1496.5 1029,1496.07 1027.9,1496.11 1026.8,1496.57 1025.7,1496.21 1024.6,1496.58 1023.5,1496.95 1022.4,1496.78 1021.3,1496.9 1020.2,1497.19 1019.1,1497.08 1018,1496.63 1016.9,1496.72 1015.8,1497.88 1014.7,1497.36 1013.6,1497.11 1012.5,1497.1 1011.4,1497.23 1010.3,1497.01 1009.2,1497.89 1008.1,1497.58 1007,1497.97 1005.9,1498.38 1004.8,1498.08 1003.7,1497.94 1002.6,1498.31 1001.5,1498.43 1000.4,1498.65 999.3,1498.55 998.2,1497.96 997.1,1498.28 996,1498.46 994.9,1498.7 993.8,1498.38 992.7,1498.28 991.6,1498.04 990.5,1497.87 989.4,1498.5 988.3,1498.83 987.2,1498.02 986.1,1499.16 985,1498.22" fill="#000" stroke="#000" stroke-width="0.8" stroke-linejoin="round"/>
<line x1="666.7" y1="1499" x2="666.7" y2="1515.5" stroke="#000" stroke-width="2.6" />
<circle cx="88.5" cy="1261.8" r="7.3" fill="url(#sr)"/>
<circle cx="97.6" cy="1254.8" r="7.3" fill="url(#sr)"/>
<circle cx="110.1" cy="1266.5" r="7.3" fill="url(#sr)"/>
<circle cx="123.5" cy="1281.5" r="7.3" fill="url(#sr)"/>
<circle cx="136" cy="1299" r="7.3" fill="url(#sr)"/>
<circle cx="148.5" cy="1278.8" r="7.3" fill="url(#sr)"/>
<circle cx="161" cy="1310.7" r="7.3" fill="url(#sr)"/>
<circle cx="174" cy="1318.2" r="7.3" fill="url(#sr)"/>
<circle cx="186.9" cy="1313.2" r="7.3" fill="url(#sr)"/>
<circle cx="595.4" cy="1319.1" r="7.3" fill="url(#sr)"/>
<circle cx="608.5" cy="1337.5" r="7.3" fill="url(#sr)"/>
<circle cx="666.8" cy="1275.8" r="7.3" fill="url(#sr)"/>
<circle cx="684.6" cy="1279.4" r="7.3" fill="url(#sr)"/>
<circle cx="697.5" cy="1260.7" r="7.3" fill="url(#sr)"/>
<circle cx="710.2" cy="1245.4" r="7.3" fill="url(#sr)"/>
<circle cx="722.9" cy="1288.8" r="7.3" fill="url(#sr)"/>
<circle cx="735.8" cy="1282.5" r="7.3" fill="url(#sr)"/>
<circle cx="1233.2" cy="1333.5" r="7.3" fill="url(#sr)"/>
<circle cx="1258.7" cy="1329.3" r="7.3" fill="url(#sr)"/>
<circle cx="1284.3" cy="1328.9" r="7.3" fill="url(#sr)"/>
<circle cx="1309.8" cy="1328.4" r="7.3" fill="url(#sr)"/>
<circle cx="88.1" cy="1662.5" r="7.3" fill="url(#sb)"/>
<circle cx="97.1" cy="1657.5" r="7.3" fill="url(#sb)"/>
<circle cx="110.1" cy="1641.1" r="7.3" fill="url(#sb)"/>
<circle cx="123.1" cy="1646.5" r="7.3" fill="url(#sb)"/>
<circle cx="135.7" cy="1636.5" r="7.3" fill="url(#sb)"/>
<circle cx="148.2" cy="1631.1" r="7.3" fill="url(#sb)"/>
<circle cx="161.2" cy="1635.7" r="7.3" fill="url(#sb)"/>
<circle cx="174.2" cy="1620.1" r="7.3" fill="url(#sb)"/>
<circle cx="187.2" cy="1617.7" r="7.3" fill="url(#sb)"/>
<circle cx="595.4" cy="1603.4" r="7.3" fill="url(#sb)"/>
<circle cx="608.5" cy="1603.4" r="7.3" fill="url(#sb)"/>
<circle cx="666.8" cy="1655.7" r="7.3" fill="url(#sb)"/>
<circle cx="684.6" cy="1653.7" r="7.3" fill="url(#sb)"/>
<circle cx="697.5" cy="1650.8" r="7.3" fill="url(#sb)"/>
<circle cx="710.2" cy="1659.4" r="7.3" fill="url(#sb)"/>
<circle cx="722.9" cy="1628.3" r="7.3" fill="url(#sb)"/>
<circle cx="735.8" cy="1626.1" r="7.3" fill="url(#sb)"/>
<circle cx="1233.4" cy="1583.5" r="7.3" fill="url(#sb)"/>
<circle cx="1258.7" cy="1610.1" r="7.3" fill="url(#sb)"/>
<circle cx="1284.5" cy="1589.2" r="7.3" fill="url(#sb)"/>
<circle cx="1309.8" cy="1602.2" r="7.3" fill="url(#sb)"/>
</g>
<path d="M85.6,1227.8 L1361.3,1227.8 L1361.3,1669.3 L85.6,1669.3 Z" fill="none" stroke="#000" stroke-width="3.4"/>
<line x1="76.2" y1="1227.6" x2="85.6" y2="1227.6" stroke="#000" stroke-width="3.2" />
<text x="70.4" y="1235.8" font-size="29" text-anchor="end" fill="#000" font-weight="bold" >0</text>
<line x1="80.5" y1="1271.77" x2="85.6" y2="1271.77" stroke="#000" stroke-width="3" />
<line x1="76.2" y1="1315.94" x2="85.6" y2="1315.94" stroke="#000" stroke-width="3.2" />
<text x="70.4" y="1324.14" font-size="29" text-anchor="end" fill="#000" font-weight="bold" >-1</text>
<line x1="80.5" y1="1360.11" x2="85.6" y2="1360.11" stroke="#000" stroke-width="3" />
<line x1="76.2" y1="1404.28" x2="85.6" y2="1404.28" stroke="#000" stroke-width="3.2" />
<text x="70.4" y="1412.48" font-size="29" text-anchor="end" fill="#000" font-weight="bold" >-2</text>
<line x1="80.5" y1="1448.45" x2="85.6" y2="1448.45" stroke="#000" stroke-width="3" />
<line x1="76.2" y1="1492.62" x2="85.6" y2="1492.62" stroke="#000" stroke-width="3.2" />
<text x="70.4" y="1500.82" font-size="29" text-anchor="end" fill="#000" font-weight="bold" >-3</text>
<line x1="80.5" y1="1536.79" x2="85.6" y2="1536.79" stroke="#000" stroke-width="3" />
<line x1="76.2" y1="1580.96" x2="85.6" y2="1580.96" stroke="#000" stroke-width="3.2" />
<text x="70.4" y="1589.16" font-size="29" text-anchor="end" fill="#000" font-weight="bold" >-4</text>
<line x1="80.5" y1="1625.13" x2="85.6" y2="1625.13" stroke="#000" stroke-width="3" />
<line x1="76.2" y1="1669.3" x2="85.6" y2="1669.3" stroke="#000" stroke-width="3.2" />
<text x="70.4" y="1677.5" font-size="29" text-anchor="end" fill="#000" font-weight="bold" >-5</text>
<line x1="1361.3" y1="1669.2" x2="1370.3" y2="1669.2" stroke="#000" stroke-width="3.2" />
<text x="1375" y="1678.4" font-size="29.6" text-anchor="start" fill="#000" font-weight="bold" >0</text>
<line x1="1361.3" y1="1627.15" x2="1366" y2="1627.15" stroke="#000" stroke-width="3" />
<line x1="1361.3" y1="1585.1" x2="1370.3" y2="1585.1" stroke="#000" stroke-width="3.2" />
<text x="1375" y="1594.3" font-size="29.6" text-anchor="start" fill="#000" font-weight="bold" >20</text>
<line x1="1361.3" y1="1543.05" x2="1366" y2="1543.05" stroke="#000" stroke-width="3" />
<line x1="1361.3" y1="1501" x2="1370.3" y2="1501" stroke="#000" stroke-width="3.2" />
<text x="1375" y="1510.2" font-size="29.6" text-anchor="start" fill="#000" font-weight="bold" >40</text>
<line x1="1361.3" y1="1458.95" x2="1366" y2="1458.95" stroke="#000" stroke-width="3" />
<line x1="1361.3" y1="1416.9" x2="1370.3" y2="1416.9" stroke="#000" stroke-width="3.2" />
<text x="1375" y="1426.1" font-size="29.6" text-anchor="start" fill="#000" font-weight="bold" >60</text>
<line x1="1361.3" y1="1374.85" x2="1366" y2="1374.85" stroke="#000" stroke-width="3" />
<line x1="1361.3" y1="1332.8" x2="1370.3" y2="1332.8" stroke="#000" stroke-width="3.2" />
<text x="1375" y="1342" font-size="29.6" text-anchor="start" fill="#000" font-weight="bold" >80</text>
<line x1="1361.3" y1="1290.75" x2="1366" y2="1290.75" stroke="#000" stroke-width="3" />
<line x1="1361.3" y1="1248.7" x2="1370.3" y2="1248.7" stroke="#000" stroke-width="3.2" />
<text x="1375" y="1257.9" font-size="29.6" text-anchor="start" fill="#000" font-weight="bold" >100</text>
<line x1="85.7" y1="1669.3" x2="85.7" y2="1678.4" stroke="#000" stroke-width="3" />
<text x="85.7" y="1713.2" font-size="37.5" text-anchor="middle" fill="#000" font-weight="bold" >0</text>
<line x1="213.25" y1="1669.3" x2="213.25" y2="1674" stroke="#000" stroke-width="3" />
<line x1="340.8" y1="1669.3" x2="340.8" y2="1678.4" stroke="#000" stroke-width="3" />
<text x="340.8" y="1713.2" font-size="37.5" text-anchor="middle" fill="#000" font-weight="bold" >10</text>
<line x1="468.35" y1="1669.3" x2="468.35" y2="1674" stroke="#000" stroke-width="3" />
<line x1="595.9" y1="1669.3" x2="595.9" y2="1678.4" stroke="#000" stroke-width="3" />
<text x="595.9" y="1713.2" font-size="37.5" text-anchor="middle" fill="#000" font-weight="bold" >20</text>
<line x1="723.45" y1="1669.3" x2="723.45" y2="1674" stroke="#000" stroke-width="3" />
<line x1="851" y1="1669.3" x2="851" y2="1678.4" stroke="#000" stroke-width="3" />
<text x="851" y="1713.2" font-size="37.5" text-anchor="middle" fill="#000" font-weight="bold" >30</text>
<line x1="978.55" y1="1669.3" x2="978.55" y2="1674" stroke="#000" stroke-width="3" />
<line x1="1106.1" y1="1669.3" x2="1106.1" y2="1678.4" stroke="#000" stroke-width="3" />
<text x="1106.1" y="1713.2" font-size="37.5" text-anchor="middle" fill="#000" font-weight="bold" >40</text>
<line x1="1233.65" y1="1669.3" x2="1233.65" y2="1674" stroke="#000" stroke-width="3" />
<line x1="1361.2" y1="1669.3" x2="1361.2" y2="1678.4" stroke="#000" stroke-width="3" />
<text x="1361.2" y="1713.2" font-size="37.5" text-anchor="middle" fill="#000" font-weight="bold" >50</text>
<text x="730.3" y="1754.8" font-size="38.3" text-anchor="middle" fill="#000" font-weight="bold" >Time (h)</text>
<text transform="translate(28.2,1440) rotate(-90)" font-size="37.8" font-weight="bold" text-anchor="middle">Voltage (V)</text>
<text transform="translate(1476.9,1448.4) rotate(-90)" font-size="37.8" font-weight="bold" text-anchor="middle">Faradaic efficiency (%)</text>
<text transform="translate(1.9,1200.6) scale(1.05,1.03)" font-size="60" font-weight="bold">d</text>
<polyline points="153.4,1489.5 153.4,1464.3 129,1464.3" fill="none" stroke="#000" stroke-width="3.2"/>
<polygon points="131,1457.9 131,1470.7 105.7,1464.3" fill="#000"/>
<polyline points="1284.3,1313.8 1284.3,1284.3 1319,1284.3" fill="none" stroke="#000" stroke-width="3.2"/>
<polygon points="1317,1278 1317,1290.6 1340.5,1284.3" fill="#000"/>
<line x1="719.4" y1="1442.1" x2="680" y2="1484" stroke="#000" stroke-width="3.2"/>
<polygon points="666.6,1498.1 676,1477.5 688.5,1488.5" fill="#000"/>
<text x="876.9" y="1432.7" font-size="38.4" text-anchor="middle" fill="#000" font-weight="bold" >Clean carbonate</text>
<circle cx="1071.1" cy="1192.2" r="7.4" fill="url(#sr)"/>
<text x="1124.8" y="1206.5" font-size="38.8" text-anchor="start" fill="#FF0000" font-weight="bold" >CO</text>
<circle cx="1247" cy="1192.5" r="7.4" fill="url(#sb)"/>
<text x="1301.5" y="1205.4" font-size="37.5" text-anchor="start" fill="#0000FF" font-weight="bold" >H</text>
<text x="1328.2" y="1215.6" font-size="25.5" text-anchor="start" fill="#0000FF" font-weight="bold" >2</text>
</svg></body></html>
